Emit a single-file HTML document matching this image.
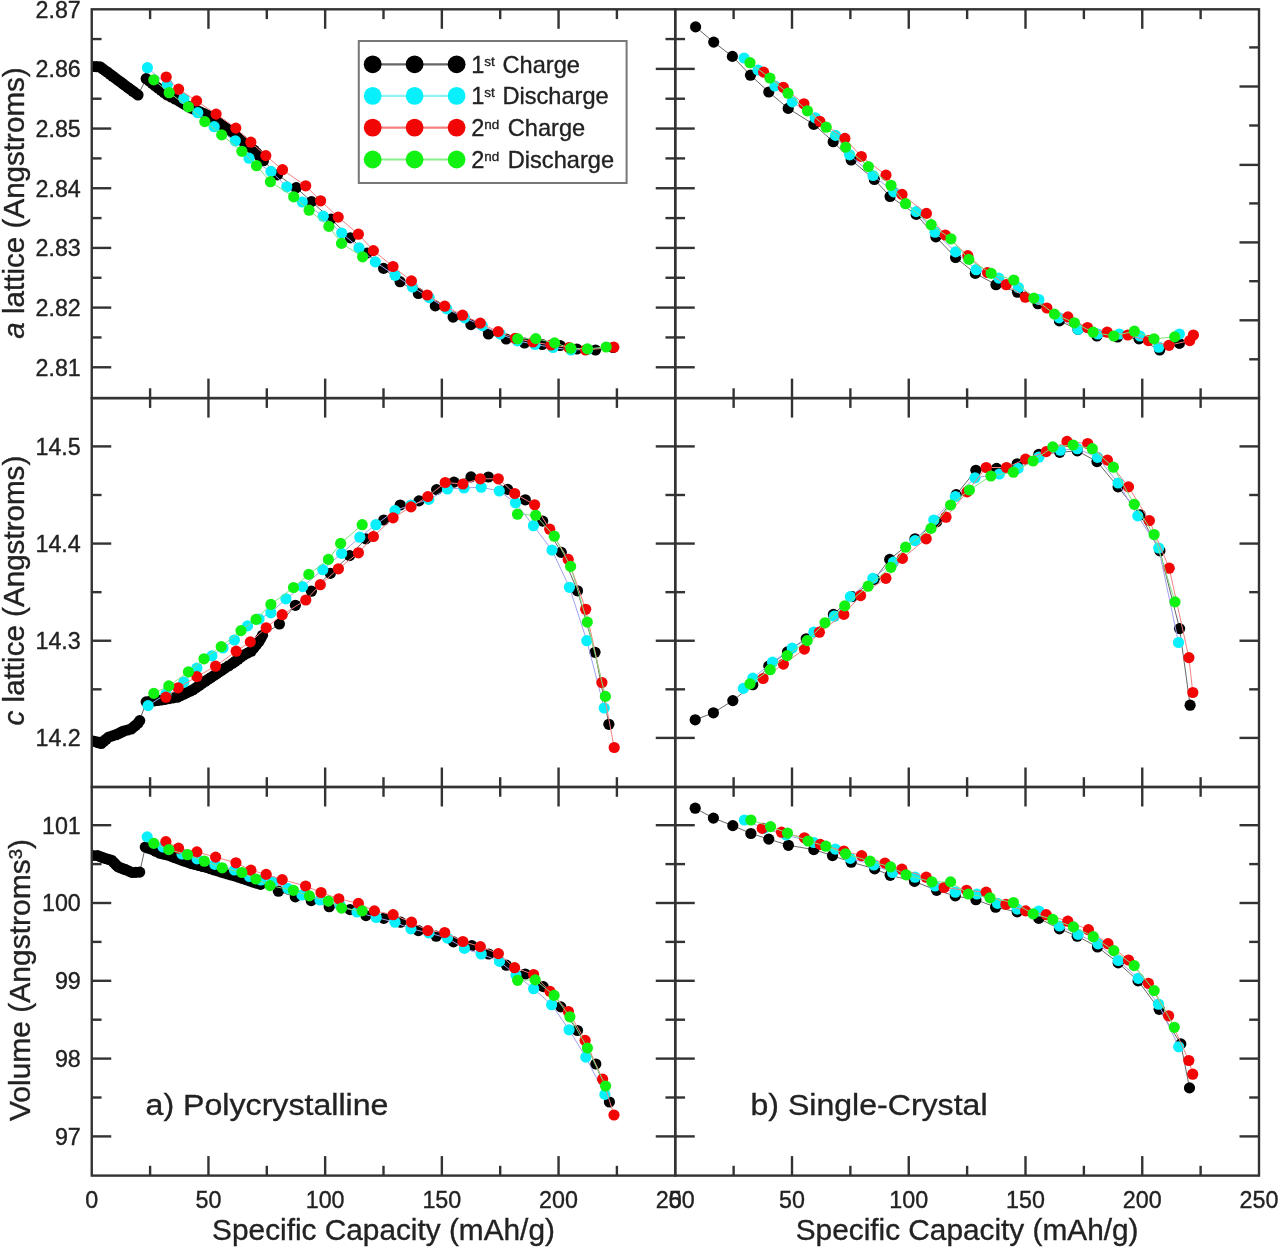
<!DOCTYPE html><html><head><meta charset="utf-8"><style>
html,body{margin:0;padding:0;background:#fff;overflow:hidden;}
svg{display:block;filter:blur(0.45px);}
text{font-family:"Liberation Sans",sans-serif;fill:#222;stroke:#222;stroke-width:0.35px;}
</style></head><body>
<svg width="1280" height="1249" viewBox="0 0 1280 1249">
<rect width="1280" height="1249" fill="#fff"/>
<rect x="91.75" y="9.30" width="583.50" height="388.80" fill="none" stroke="#333" stroke-width="2.4"/>
<rect x="91.75" y="398.10" width="583.50" height="388.90" fill="none" stroke="#333" stroke-width="2.4"/>
<rect x="91.75" y="787.00" width="583.50" height="388.60" fill="none" stroke="#333" stroke-width="2.4"/>
<rect x="675.25" y="9.30" width="583.75" height="388.80" fill="none" stroke="#333" stroke-width="2.4"/>
<rect x="675.25" y="398.10" width="583.75" height="388.90" fill="none" stroke="#333" stroke-width="2.4"/>
<rect x="675.25" y="787.00" width="583.75" height="388.60" fill="none" stroke="#333" stroke-width="2.4"/>
<line x1="150.10" y1="9.30" x2="150.10" y2="19.10" stroke="#333" stroke-width="2.4"/>
<line x1="150.10" y1="398.10" x2="150.10" y2="388.30" stroke="#333" stroke-width="2.4"/>
<line x1="150.10" y1="398.10" x2="150.10" y2="407.90" stroke="#333" stroke-width="2.4"/>
<line x1="150.10" y1="787.00" x2="150.10" y2="777.20" stroke="#333" stroke-width="2.4"/>
<line x1="150.10" y1="787.00" x2="150.10" y2="796.80" stroke="#333" stroke-width="2.4"/>
<line x1="150.10" y1="1175.60" x2="150.10" y2="1165.80" stroke="#333" stroke-width="2.4"/>
<line x1="208.45" y1="9.30" x2="208.45" y2="28.80" stroke="#333" stroke-width="2.4"/>
<line x1="208.45" y1="398.10" x2="208.45" y2="378.60" stroke="#333" stroke-width="2.4"/>
<line x1="208.45" y1="398.10" x2="208.45" y2="417.60" stroke="#333" stroke-width="2.4"/>
<line x1="208.45" y1="787.00" x2="208.45" y2="767.50" stroke="#333" stroke-width="2.4"/>
<line x1="208.45" y1="787.00" x2="208.45" y2="806.50" stroke="#333" stroke-width="2.4"/>
<line x1="208.45" y1="1175.60" x2="208.45" y2="1156.10" stroke="#333" stroke-width="2.4"/>
<line x1="266.80" y1="9.30" x2="266.80" y2="19.10" stroke="#333" stroke-width="2.4"/>
<line x1="266.80" y1="398.10" x2="266.80" y2="388.30" stroke="#333" stroke-width="2.4"/>
<line x1="266.80" y1="398.10" x2="266.80" y2="407.90" stroke="#333" stroke-width="2.4"/>
<line x1="266.80" y1="787.00" x2="266.80" y2="777.20" stroke="#333" stroke-width="2.4"/>
<line x1="266.80" y1="787.00" x2="266.80" y2="796.80" stroke="#333" stroke-width="2.4"/>
<line x1="266.80" y1="1175.60" x2="266.80" y2="1165.80" stroke="#333" stroke-width="2.4"/>
<line x1="325.15" y1="9.30" x2="325.15" y2="28.80" stroke="#333" stroke-width="2.4"/>
<line x1="325.15" y1="398.10" x2="325.15" y2="378.60" stroke="#333" stroke-width="2.4"/>
<line x1="325.15" y1="398.10" x2="325.15" y2="417.60" stroke="#333" stroke-width="2.4"/>
<line x1="325.15" y1="787.00" x2="325.15" y2="767.50" stroke="#333" stroke-width="2.4"/>
<line x1="325.15" y1="787.00" x2="325.15" y2="806.50" stroke="#333" stroke-width="2.4"/>
<line x1="325.15" y1="1175.60" x2="325.15" y2="1156.10" stroke="#333" stroke-width="2.4"/>
<line x1="383.50" y1="9.30" x2="383.50" y2="19.10" stroke="#333" stroke-width="2.4"/>
<line x1="383.50" y1="398.10" x2="383.50" y2="388.30" stroke="#333" stroke-width="2.4"/>
<line x1="383.50" y1="398.10" x2="383.50" y2="407.90" stroke="#333" stroke-width="2.4"/>
<line x1="383.50" y1="787.00" x2="383.50" y2="777.20" stroke="#333" stroke-width="2.4"/>
<line x1="383.50" y1="787.00" x2="383.50" y2="796.80" stroke="#333" stroke-width="2.4"/>
<line x1="383.50" y1="1175.60" x2="383.50" y2="1165.80" stroke="#333" stroke-width="2.4"/>
<line x1="441.85" y1="9.30" x2="441.85" y2="28.80" stroke="#333" stroke-width="2.4"/>
<line x1="441.85" y1="398.10" x2="441.85" y2="378.60" stroke="#333" stroke-width="2.4"/>
<line x1="441.85" y1="398.10" x2="441.85" y2="417.60" stroke="#333" stroke-width="2.4"/>
<line x1="441.85" y1="787.00" x2="441.85" y2="767.50" stroke="#333" stroke-width="2.4"/>
<line x1="441.85" y1="787.00" x2="441.85" y2="806.50" stroke="#333" stroke-width="2.4"/>
<line x1="441.85" y1="1175.60" x2="441.85" y2="1156.10" stroke="#333" stroke-width="2.4"/>
<line x1="500.20" y1="9.30" x2="500.20" y2="19.10" stroke="#333" stroke-width="2.4"/>
<line x1="500.20" y1="398.10" x2="500.20" y2="388.30" stroke="#333" stroke-width="2.4"/>
<line x1="500.20" y1="398.10" x2="500.20" y2="407.90" stroke="#333" stroke-width="2.4"/>
<line x1="500.20" y1="787.00" x2="500.20" y2="777.20" stroke="#333" stroke-width="2.4"/>
<line x1="500.20" y1="787.00" x2="500.20" y2="796.80" stroke="#333" stroke-width="2.4"/>
<line x1="500.20" y1="1175.60" x2="500.20" y2="1165.80" stroke="#333" stroke-width="2.4"/>
<line x1="558.55" y1="9.30" x2="558.55" y2="28.80" stroke="#333" stroke-width="2.4"/>
<line x1="558.55" y1="398.10" x2="558.55" y2="378.60" stroke="#333" stroke-width="2.4"/>
<line x1="558.55" y1="398.10" x2="558.55" y2="417.60" stroke="#333" stroke-width="2.4"/>
<line x1="558.55" y1="787.00" x2="558.55" y2="767.50" stroke="#333" stroke-width="2.4"/>
<line x1="558.55" y1="787.00" x2="558.55" y2="806.50" stroke="#333" stroke-width="2.4"/>
<line x1="558.55" y1="1175.60" x2="558.55" y2="1156.10" stroke="#333" stroke-width="2.4"/>
<line x1="616.90" y1="9.30" x2="616.90" y2="19.10" stroke="#333" stroke-width="2.4"/>
<line x1="616.90" y1="398.10" x2="616.90" y2="388.30" stroke="#333" stroke-width="2.4"/>
<line x1="616.90" y1="398.10" x2="616.90" y2="407.90" stroke="#333" stroke-width="2.4"/>
<line x1="616.90" y1="787.00" x2="616.90" y2="777.20" stroke="#333" stroke-width="2.4"/>
<line x1="616.90" y1="787.00" x2="616.90" y2="796.80" stroke="#333" stroke-width="2.4"/>
<line x1="616.90" y1="1175.60" x2="616.90" y2="1165.80" stroke="#333" stroke-width="2.4"/>
<line x1="733.62" y1="9.30" x2="733.62" y2="19.10" stroke="#333" stroke-width="2.4"/>
<line x1="733.62" y1="398.10" x2="733.62" y2="388.30" stroke="#333" stroke-width="2.4"/>
<line x1="733.62" y1="398.10" x2="733.62" y2="407.90" stroke="#333" stroke-width="2.4"/>
<line x1="733.62" y1="787.00" x2="733.62" y2="777.20" stroke="#333" stroke-width="2.4"/>
<line x1="733.62" y1="787.00" x2="733.62" y2="796.80" stroke="#333" stroke-width="2.4"/>
<line x1="733.62" y1="1175.60" x2="733.62" y2="1165.80" stroke="#333" stroke-width="2.4"/>
<line x1="792.00" y1="9.30" x2="792.00" y2="28.80" stroke="#333" stroke-width="2.4"/>
<line x1="792.00" y1="398.10" x2="792.00" y2="378.60" stroke="#333" stroke-width="2.4"/>
<line x1="792.00" y1="398.10" x2="792.00" y2="417.60" stroke="#333" stroke-width="2.4"/>
<line x1="792.00" y1="787.00" x2="792.00" y2="767.50" stroke="#333" stroke-width="2.4"/>
<line x1="792.00" y1="787.00" x2="792.00" y2="806.50" stroke="#333" stroke-width="2.4"/>
<line x1="792.00" y1="1175.60" x2="792.00" y2="1156.10" stroke="#333" stroke-width="2.4"/>
<line x1="850.38" y1="9.30" x2="850.38" y2="19.10" stroke="#333" stroke-width="2.4"/>
<line x1="850.38" y1="398.10" x2="850.38" y2="388.30" stroke="#333" stroke-width="2.4"/>
<line x1="850.38" y1="398.10" x2="850.38" y2="407.90" stroke="#333" stroke-width="2.4"/>
<line x1="850.38" y1="787.00" x2="850.38" y2="777.20" stroke="#333" stroke-width="2.4"/>
<line x1="850.38" y1="787.00" x2="850.38" y2="796.80" stroke="#333" stroke-width="2.4"/>
<line x1="850.38" y1="1175.60" x2="850.38" y2="1165.80" stroke="#333" stroke-width="2.4"/>
<line x1="908.75" y1="9.30" x2="908.75" y2="28.80" stroke="#333" stroke-width="2.4"/>
<line x1="908.75" y1="398.10" x2="908.75" y2="378.60" stroke="#333" stroke-width="2.4"/>
<line x1="908.75" y1="398.10" x2="908.75" y2="417.60" stroke="#333" stroke-width="2.4"/>
<line x1="908.75" y1="787.00" x2="908.75" y2="767.50" stroke="#333" stroke-width="2.4"/>
<line x1="908.75" y1="787.00" x2="908.75" y2="806.50" stroke="#333" stroke-width="2.4"/>
<line x1="908.75" y1="1175.60" x2="908.75" y2="1156.10" stroke="#333" stroke-width="2.4"/>
<line x1="967.12" y1="9.30" x2="967.12" y2="19.10" stroke="#333" stroke-width="2.4"/>
<line x1="967.12" y1="398.10" x2="967.12" y2="388.30" stroke="#333" stroke-width="2.4"/>
<line x1="967.12" y1="398.10" x2="967.12" y2="407.90" stroke="#333" stroke-width="2.4"/>
<line x1="967.12" y1="787.00" x2="967.12" y2="777.20" stroke="#333" stroke-width="2.4"/>
<line x1="967.12" y1="787.00" x2="967.12" y2="796.80" stroke="#333" stroke-width="2.4"/>
<line x1="967.12" y1="1175.60" x2="967.12" y2="1165.80" stroke="#333" stroke-width="2.4"/>
<line x1="1025.50" y1="9.30" x2="1025.50" y2="28.80" stroke="#333" stroke-width="2.4"/>
<line x1="1025.50" y1="398.10" x2="1025.50" y2="378.60" stroke="#333" stroke-width="2.4"/>
<line x1="1025.50" y1="398.10" x2="1025.50" y2="417.60" stroke="#333" stroke-width="2.4"/>
<line x1="1025.50" y1="787.00" x2="1025.50" y2="767.50" stroke="#333" stroke-width="2.4"/>
<line x1="1025.50" y1="787.00" x2="1025.50" y2="806.50" stroke="#333" stroke-width="2.4"/>
<line x1="1025.50" y1="1175.60" x2="1025.50" y2="1156.10" stroke="#333" stroke-width="2.4"/>
<line x1="1083.88" y1="9.30" x2="1083.88" y2="19.10" stroke="#333" stroke-width="2.4"/>
<line x1="1083.88" y1="398.10" x2="1083.88" y2="388.30" stroke="#333" stroke-width="2.4"/>
<line x1="1083.88" y1="398.10" x2="1083.88" y2="407.90" stroke="#333" stroke-width="2.4"/>
<line x1="1083.88" y1="787.00" x2="1083.88" y2="777.20" stroke="#333" stroke-width="2.4"/>
<line x1="1083.88" y1="787.00" x2="1083.88" y2="796.80" stroke="#333" stroke-width="2.4"/>
<line x1="1083.88" y1="1175.60" x2="1083.88" y2="1165.80" stroke="#333" stroke-width="2.4"/>
<line x1="1142.25" y1="9.30" x2="1142.25" y2="28.80" stroke="#333" stroke-width="2.4"/>
<line x1="1142.25" y1="398.10" x2="1142.25" y2="378.60" stroke="#333" stroke-width="2.4"/>
<line x1="1142.25" y1="398.10" x2="1142.25" y2="417.60" stroke="#333" stroke-width="2.4"/>
<line x1="1142.25" y1="787.00" x2="1142.25" y2="767.50" stroke="#333" stroke-width="2.4"/>
<line x1="1142.25" y1="787.00" x2="1142.25" y2="806.50" stroke="#333" stroke-width="2.4"/>
<line x1="1142.25" y1="1175.60" x2="1142.25" y2="1156.10" stroke="#333" stroke-width="2.4"/>
<line x1="1200.62" y1="9.30" x2="1200.62" y2="19.10" stroke="#333" stroke-width="2.4"/>
<line x1="1200.62" y1="398.10" x2="1200.62" y2="388.30" stroke="#333" stroke-width="2.4"/>
<line x1="1200.62" y1="398.10" x2="1200.62" y2="407.90" stroke="#333" stroke-width="2.4"/>
<line x1="1200.62" y1="787.00" x2="1200.62" y2="777.20" stroke="#333" stroke-width="2.4"/>
<line x1="1200.62" y1="787.00" x2="1200.62" y2="796.80" stroke="#333" stroke-width="2.4"/>
<line x1="1200.62" y1="1175.60" x2="1200.62" y2="1165.80" stroke="#333" stroke-width="2.4"/>
<line x1="91.75" y1="39.04" x2="101.55" y2="39.04" stroke="#333" stroke-width="2.4"/>
<line x1="675.25" y1="39.04" x2="665.45" y2="39.04" stroke="#333" stroke-width="2.4"/>
<line x1="675.25" y1="39.04" x2="685.05" y2="39.04" stroke="#333" stroke-width="2.4"/>
<line x1="91.75" y1="68.88" x2="111.25" y2="68.88" stroke="#333" stroke-width="2.4"/>
<line x1="675.25" y1="68.88" x2="655.75" y2="68.88" stroke="#333" stroke-width="2.4"/>
<line x1="675.25" y1="68.88" x2="694.75" y2="68.88" stroke="#333" stroke-width="2.4"/>
<line x1="91.75" y1="98.72" x2="101.55" y2="98.72" stroke="#333" stroke-width="2.4"/>
<line x1="675.25" y1="98.72" x2="665.45" y2="98.72" stroke="#333" stroke-width="2.4"/>
<line x1="675.25" y1="98.72" x2="685.05" y2="98.72" stroke="#333" stroke-width="2.4"/>
<line x1="91.75" y1="128.56" x2="111.25" y2="128.56" stroke="#333" stroke-width="2.4"/>
<line x1="675.25" y1="128.56" x2="655.75" y2="128.56" stroke="#333" stroke-width="2.4"/>
<line x1="675.25" y1="128.56" x2="694.75" y2="128.56" stroke="#333" stroke-width="2.4"/>
<line x1="91.75" y1="158.40" x2="101.55" y2="158.40" stroke="#333" stroke-width="2.4"/>
<line x1="675.25" y1="158.40" x2="665.45" y2="158.40" stroke="#333" stroke-width="2.4"/>
<line x1="675.25" y1="158.40" x2="685.05" y2="158.40" stroke="#333" stroke-width="2.4"/>
<line x1="91.75" y1="188.24" x2="111.25" y2="188.24" stroke="#333" stroke-width="2.4"/>
<line x1="675.25" y1="188.24" x2="655.75" y2="188.24" stroke="#333" stroke-width="2.4"/>
<line x1="675.25" y1="188.24" x2="694.75" y2="188.24" stroke="#333" stroke-width="2.4"/>
<line x1="91.75" y1="218.08" x2="101.55" y2="218.08" stroke="#333" stroke-width="2.4"/>
<line x1="675.25" y1="218.08" x2="665.45" y2="218.08" stroke="#333" stroke-width="2.4"/>
<line x1="675.25" y1="218.08" x2="685.05" y2="218.08" stroke="#333" stroke-width="2.4"/>
<line x1="91.75" y1="247.92" x2="111.25" y2="247.92" stroke="#333" stroke-width="2.4"/>
<line x1="675.25" y1="247.92" x2="655.75" y2="247.92" stroke="#333" stroke-width="2.4"/>
<line x1="675.25" y1="247.92" x2="694.75" y2="247.92" stroke="#333" stroke-width="2.4"/>
<line x1="91.75" y1="277.76" x2="101.55" y2="277.76" stroke="#333" stroke-width="2.4"/>
<line x1="675.25" y1="277.76" x2="665.45" y2="277.76" stroke="#333" stroke-width="2.4"/>
<line x1="675.25" y1="277.76" x2="685.05" y2="277.76" stroke="#333" stroke-width="2.4"/>
<line x1="91.75" y1="307.60" x2="111.25" y2="307.60" stroke="#333" stroke-width="2.4"/>
<line x1="675.25" y1="307.60" x2="655.75" y2="307.60" stroke="#333" stroke-width="2.4"/>
<line x1="675.25" y1="307.60" x2="694.75" y2="307.60" stroke="#333" stroke-width="2.4"/>
<line x1="91.75" y1="337.44" x2="101.55" y2="337.44" stroke="#333" stroke-width="2.4"/>
<line x1="675.25" y1="337.44" x2="665.45" y2="337.44" stroke="#333" stroke-width="2.4"/>
<line x1="675.25" y1="337.44" x2="685.05" y2="337.44" stroke="#333" stroke-width="2.4"/>
<line x1="91.75" y1="367.28" x2="111.25" y2="367.28" stroke="#333" stroke-width="2.4"/>
<line x1="675.25" y1="367.28" x2="655.75" y2="367.28" stroke="#333" stroke-width="2.4"/>
<line x1="675.25" y1="367.28" x2="694.75" y2="367.28" stroke="#333" stroke-width="2.4"/>
<line x1="91.75" y1="446.40" x2="111.25" y2="446.40" stroke="#333" stroke-width="2.4"/>
<line x1="675.25" y1="446.40" x2="655.75" y2="446.40" stroke="#333" stroke-width="2.4"/>
<line x1="675.25" y1="446.40" x2="694.75" y2="446.40" stroke="#333" stroke-width="2.4"/>
<line x1="1259.00" y1="446.40" x2="1239.50" y2="446.40" stroke="#333" stroke-width="2.4"/>
<line x1="91.75" y1="494.99" x2="101.55" y2="494.99" stroke="#333" stroke-width="2.4"/>
<line x1="675.25" y1="494.99" x2="665.45" y2="494.99" stroke="#333" stroke-width="2.4"/>
<line x1="675.25" y1="494.99" x2="685.05" y2="494.99" stroke="#333" stroke-width="2.4"/>
<line x1="1259.00" y1="494.99" x2="1249.20" y2="494.99" stroke="#333" stroke-width="2.4"/>
<line x1="91.75" y1="543.57" x2="111.25" y2="543.57" stroke="#333" stroke-width="2.4"/>
<line x1="675.25" y1="543.57" x2="655.75" y2="543.57" stroke="#333" stroke-width="2.4"/>
<line x1="675.25" y1="543.57" x2="694.75" y2="543.57" stroke="#333" stroke-width="2.4"/>
<line x1="1259.00" y1="543.57" x2="1239.50" y2="543.57" stroke="#333" stroke-width="2.4"/>
<line x1="91.75" y1="592.16" x2="101.55" y2="592.16" stroke="#333" stroke-width="2.4"/>
<line x1="675.25" y1="592.16" x2="665.45" y2="592.16" stroke="#333" stroke-width="2.4"/>
<line x1="675.25" y1="592.16" x2="685.05" y2="592.16" stroke="#333" stroke-width="2.4"/>
<line x1="1259.00" y1="592.16" x2="1249.20" y2="592.16" stroke="#333" stroke-width="2.4"/>
<line x1="91.75" y1="640.74" x2="111.25" y2="640.74" stroke="#333" stroke-width="2.4"/>
<line x1="675.25" y1="640.74" x2="655.75" y2="640.74" stroke="#333" stroke-width="2.4"/>
<line x1="675.25" y1="640.74" x2="694.75" y2="640.74" stroke="#333" stroke-width="2.4"/>
<line x1="1259.00" y1="640.74" x2="1239.50" y2="640.74" stroke="#333" stroke-width="2.4"/>
<line x1="91.75" y1="689.33" x2="101.55" y2="689.33" stroke="#333" stroke-width="2.4"/>
<line x1="675.25" y1="689.33" x2="665.45" y2="689.33" stroke="#333" stroke-width="2.4"/>
<line x1="675.25" y1="689.33" x2="685.05" y2="689.33" stroke="#333" stroke-width="2.4"/>
<line x1="1259.00" y1="689.33" x2="1249.20" y2="689.33" stroke="#333" stroke-width="2.4"/>
<line x1="91.75" y1="737.91" x2="111.25" y2="737.91" stroke="#333" stroke-width="2.4"/>
<line x1="675.25" y1="737.91" x2="655.75" y2="737.91" stroke="#333" stroke-width="2.4"/>
<line x1="675.25" y1="737.91" x2="694.75" y2="737.91" stroke="#333" stroke-width="2.4"/>
<line x1="1259.00" y1="737.91" x2="1239.50" y2="737.91" stroke="#333" stroke-width="2.4"/>
<line x1="91.75" y1="825.20" x2="111.25" y2="825.20" stroke="#333" stroke-width="2.4"/>
<line x1="675.25" y1="825.20" x2="655.75" y2="825.20" stroke="#333" stroke-width="2.4"/>
<line x1="675.25" y1="825.20" x2="694.75" y2="825.20" stroke="#333" stroke-width="2.4"/>
<line x1="1259.00" y1="825.20" x2="1239.50" y2="825.20" stroke="#333" stroke-width="2.4"/>
<line x1="91.75" y1="864.10" x2="101.55" y2="864.10" stroke="#333" stroke-width="2.4"/>
<line x1="675.25" y1="864.10" x2="665.45" y2="864.10" stroke="#333" stroke-width="2.4"/>
<line x1="675.25" y1="864.10" x2="685.05" y2="864.10" stroke="#333" stroke-width="2.4"/>
<line x1="1259.00" y1="864.10" x2="1249.20" y2="864.10" stroke="#333" stroke-width="2.4"/>
<line x1="91.75" y1="903.00" x2="111.25" y2="903.00" stroke="#333" stroke-width="2.4"/>
<line x1="675.25" y1="903.00" x2="655.75" y2="903.00" stroke="#333" stroke-width="2.4"/>
<line x1="675.25" y1="903.00" x2="694.75" y2="903.00" stroke="#333" stroke-width="2.4"/>
<line x1="1259.00" y1="903.00" x2="1239.50" y2="903.00" stroke="#333" stroke-width="2.4"/>
<line x1="91.75" y1="941.90" x2="101.55" y2="941.90" stroke="#333" stroke-width="2.4"/>
<line x1="675.25" y1="941.90" x2="665.45" y2="941.90" stroke="#333" stroke-width="2.4"/>
<line x1="675.25" y1="941.90" x2="685.05" y2="941.90" stroke="#333" stroke-width="2.4"/>
<line x1="1259.00" y1="941.90" x2="1249.20" y2="941.90" stroke="#333" stroke-width="2.4"/>
<line x1="91.75" y1="980.80" x2="111.25" y2="980.80" stroke="#333" stroke-width="2.4"/>
<line x1="675.25" y1="980.80" x2="655.75" y2="980.80" stroke="#333" stroke-width="2.4"/>
<line x1="675.25" y1="980.80" x2="694.75" y2="980.80" stroke="#333" stroke-width="2.4"/>
<line x1="1259.00" y1="980.80" x2="1239.50" y2="980.80" stroke="#333" stroke-width="2.4"/>
<line x1="91.75" y1="1019.70" x2="101.55" y2="1019.70" stroke="#333" stroke-width="2.4"/>
<line x1="675.25" y1="1019.70" x2="665.45" y2="1019.70" stroke="#333" stroke-width="2.4"/>
<line x1="675.25" y1="1019.70" x2="685.05" y2="1019.70" stroke="#333" stroke-width="2.4"/>
<line x1="1259.00" y1="1019.70" x2="1249.20" y2="1019.70" stroke="#333" stroke-width="2.4"/>
<line x1="91.75" y1="1058.60" x2="111.25" y2="1058.60" stroke="#333" stroke-width="2.4"/>
<line x1="675.25" y1="1058.60" x2="655.75" y2="1058.60" stroke="#333" stroke-width="2.4"/>
<line x1="675.25" y1="1058.60" x2="694.75" y2="1058.60" stroke="#333" stroke-width="2.4"/>
<line x1="1259.00" y1="1058.60" x2="1239.50" y2="1058.60" stroke="#333" stroke-width="2.4"/>
<line x1="91.75" y1="1097.50" x2="101.55" y2="1097.50" stroke="#333" stroke-width="2.4"/>
<line x1="675.25" y1="1097.50" x2="665.45" y2="1097.50" stroke="#333" stroke-width="2.4"/>
<line x1="675.25" y1="1097.50" x2="685.05" y2="1097.50" stroke="#333" stroke-width="2.4"/>
<line x1="1259.00" y1="1097.50" x2="1249.20" y2="1097.50" stroke="#333" stroke-width="2.4"/>
<line x1="91.75" y1="1136.40" x2="111.25" y2="1136.40" stroke="#333" stroke-width="2.4"/>
<line x1="675.25" y1="1136.40" x2="655.75" y2="1136.40" stroke="#333" stroke-width="2.4"/>
<line x1="675.25" y1="1136.40" x2="694.75" y2="1136.40" stroke="#333" stroke-width="2.4"/>
<line x1="1259.00" y1="1136.40" x2="1239.50" y2="1136.40" stroke="#333" stroke-width="2.4"/>
<line x1="1259.00" y1="47.40" x2="1249.20" y2="47.40" stroke="#333" stroke-width="2.4"/>
<line x1="1259.00" y1="86.50" x2="1239.50" y2="86.50" stroke="#333" stroke-width="2.4"/>
<line x1="1259.00" y1="125.50" x2="1249.20" y2="125.50" stroke="#333" stroke-width="2.4"/>
<line x1="1259.00" y1="164.90" x2="1239.50" y2="164.90" stroke="#333" stroke-width="2.4"/>
<line x1="1259.00" y1="203.40" x2="1249.20" y2="203.40" stroke="#333" stroke-width="2.4"/>
<line x1="1259.00" y1="242.40" x2="1239.50" y2="242.40" stroke="#333" stroke-width="2.4"/>
<line x1="1259.00" y1="281.20" x2="1249.20" y2="281.20" stroke="#333" stroke-width="2.4"/>
<line x1="1259.00" y1="320.30" x2="1239.50" y2="320.30" stroke="#333" stroke-width="2.4"/>
<line x1="1259.00" y1="359.30" x2="1249.20" y2="359.30" stroke="#333" stroke-width="2.4"/>
<text x="80.80" y="77.18" font-size="23.3" text-anchor="end" >2.86</text>
<text x="80.80" y="136.86" font-size="23.3" text-anchor="end" >2.85</text>
<text x="80.80" y="196.54" font-size="23.3" text-anchor="end" >2.84</text>
<text x="80.80" y="256.22" font-size="23.3" text-anchor="end" >2.83</text>
<text x="80.80" y="315.90" font-size="23.3" text-anchor="end" >2.82</text>
<text x="80.80" y="375.58" font-size="23.3" text-anchor="end" >2.81</text>
<text x="80.80" y="17.50" font-size="23.3" text-anchor="end" >2.87</text>
<text x="80.80" y="454.70" font-size="23.3" text-anchor="end" >14.5</text>
<text x="80.80" y="551.87" font-size="23.3" text-anchor="end" >14.4</text>
<text x="80.80" y="649.04" font-size="23.3" text-anchor="end" >14.3</text>
<text x="80.80" y="746.21" font-size="23.3" text-anchor="end" >14.2</text>
<text x="80.80" y="833.50" font-size="23.3" text-anchor="end" >101</text>
<text x="80.80" y="911.30" font-size="23.3" text-anchor="end" >100</text>
<text x="80.80" y="989.10" font-size="23.3" text-anchor="end" >99</text>
<text x="80.80" y="1066.90" font-size="23.3" text-anchor="end" >98</text>
<text x="80.80" y="1144.70" font-size="23.3" text-anchor="end" >97</text>
<text x="91.75" y="1207.50" font-size="23.3" text-anchor="middle" >0</text>
<text x="208.45" y="1207.50" font-size="23.3" text-anchor="middle" >50</text>
<text x="325.15" y="1207.50" font-size="23.3" text-anchor="middle" >100</text>
<text x="441.85" y="1207.50" font-size="23.3" text-anchor="middle" >150</text>
<text x="558.55" y="1207.50" font-size="23.3" text-anchor="middle" >200</text>
<text x="675.25" y="1207.50" font-size="23.3" text-anchor="middle" >250</text>
<text x="383.50" y="1239.70" font-size="29.8" text-anchor="middle" >Specific Capacity (mAh/g)</text>
<text x="675.25" y="1207.50" font-size="23.3" text-anchor="middle" >0</text>
<text x="792.00" y="1207.50" font-size="23.3" text-anchor="middle" >50</text>
<text x="908.75" y="1207.50" font-size="23.3" text-anchor="middle" >100</text>
<text x="1025.50" y="1207.50" font-size="23.3" text-anchor="middle" >150</text>
<text x="1142.25" y="1207.50" font-size="23.3" text-anchor="middle" >200</text>
<text x="1259.00" y="1207.50" font-size="23.3" text-anchor="middle" >250</text>
<text x="967.12" y="1239.70" font-size="29.8" text-anchor="middle" >Specific Capacity (mAh/g)</text>
<text transform="translate(23.7,203.0) rotate(-90)" font-size="29.6" text-anchor="middle"><tspan font-style="italic">a</tspan> lattice (Angstroms)</text>
<text transform="translate(23.7,590.6) rotate(-90)" font-size="29.6" text-anchor="middle"><tspan font-style="italic">c</tspan> lattice (Angstroms)</text>
<text transform="translate(29.7,980.0) rotate(-90)" font-size="30.0" text-anchor="middle">Volume (Angstroms<tspan font-size="18.5" dy="-7.7">3</tspan><tspan dy="7.7">)</tspan></text>
<text x="145.50" y="1114.80" font-size="30" text-anchor="start" textLength="243" lengthAdjust="spacingAndGlyphs">a) Polycrystalline</text>
<text x="750.50" y="1114.80" font-size="30" text-anchor="start" textLength="237" lengthAdjust="spacingAndGlyphs">b) Single-Crystal</text>
<defs><clipPath id="cp0"><rect x="92.85" y="10.40" width="581.3" height="386.60"/></clipPath><clipPath id="cp1"><rect x="676.35" y="10.40" width="581.3" height="386.60"/></clipPath><clipPath id="cp2"><rect x="92.85" y="399.20" width="581.3" height="386.70"/></clipPath><clipPath id="cp3"><rect x="676.35" y="399.20" width="581.3" height="386.70"/></clipPath><clipPath id="cp4"><rect x="92.85" y="788.10" width="581.3" height="386.40"/></clipPath><clipPath id="cp5"><rect x="676.35" y="788.10" width="581.3" height="386.40"/></clipPath></defs>
<g clip-path="url(#cp0)">
<path d="M93.0,66.5 L96.5,66.7 L100.0,66.8 L102.5,68.7 L105.1,70.6 L107.6,72.4 L110.1,74.3 L112.7,76.2 L115.2,78.1 L117.7,80.0 L120.3,81.8 L122.8,83.7 L125.3,85.6 L127.9,87.5 L130.4,89.4 L132.9,91.2 L135.5,93.1 L138.0,95.0 L146.2,78.7 L149.2,81.0 L152.1,83.3 L155.1,85.7 L158.0,88.0 L161.1,90.3 L164.2,92.7 L167.3,95.0 L171.2,97.0 L175.1,99.0 L179.0,101.0 L181.9,102.8 L184.9,104.5 L187.9,106.2 L190.8,108.0 L194.1,109.4 L197.4,110.8 L200.6,112.2 L203.9,113.6 L207.2,115.0 L210.3,117.0 L213.5,118.9 L216.6,120.9 L219.7,123.2 L222.9,125.6 L226.0,127.9 L229.1,130.2 L232.2,132.6 L235.3,134.9 L238.4,137.6 L241.6,140.4 L244.7,143.1 L247.8,145.5 L250.9,147.8 L254.0,150.2 L256.4,152.8 L258.7,155.4 L261.0,158.1 L263.4,160.7 L277.5,174.8 L296.2,187.7 L311.5,201.6 L331.0,219.0 L350.3,237.8 L367.0,253.0 L383.6,268.4 L400.1,281.7 L418.4,293.5 L435.3,305.9 L453.1,317.1 L470.9,324.6 L488.4,334.0 L506.2,339.0 L524.5,343.0 L542.2,344.5 L560.1,345.5 L576.8,349.0 L595.5,350.0 L613.0,347.5" fill="none" stroke="#666666" stroke-width="1"/>
<circle cx="93.0" cy="66.5" r="5.6" fill="#000000"/>
<circle cx="96.5" cy="66.7" r="5.6" fill="#000000"/>
<circle cx="100.0" cy="66.8" r="5.6" fill="#000000"/>
<circle cx="102.5" cy="68.7" r="5.6" fill="#000000"/>
<circle cx="105.1" cy="70.6" r="5.6" fill="#000000"/>
<circle cx="107.6" cy="72.4" r="5.6" fill="#000000"/>
<circle cx="110.1" cy="74.3" r="5.6" fill="#000000"/>
<circle cx="112.7" cy="76.2" r="5.6" fill="#000000"/>
<circle cx="115.2" cy="78.1" r="5.6" fill="#000000"/>
<circle cx="117.7" cy="80.0" r="5.6" fill="#000000"/>
<circle cx="120.3" cy="81.8" r="5.6" fill="#000000"/>
<circle cx="122.8" cy="83.7" r="5.6" fill="#000000"/>
<circle cx="125.3" cy="85.6" r="5.6" fill="#000000"/>
<circle cx="127.9" cy="87.5" r="5.6" fill="#000000"/>
<circle cx="130.4" cy="89.4" r="5.6" fill="#000000"/>
<circle cx="132.9" cy="91.2" r="5.6" fill="#000000"/>
<circle cx="135.5" cy="93.1" r="5.6" fill="#000000"/>
<circle cx="138.0" cy="95.0" r="5.6" fill="#000000"/>
<circle cx="146.2" cy="78.7" r="5.6" fill="#000000"/>
<circle cx="149.2" cy="81.0" r="5.6" fill="#000000"/>
<circle cx="152.1" cy="83.3" r="5.6" fill="#000000"/>
<circle cx="155.1" cy="85.7" r="5.6" fill="#000000"/>
<circle cx="158.0" cy="88.0" r="5.6" fill="#000000"/>
<circle cx="161.1" cy="90.3" r="5.6" fill="#000000"/>
<circle cx="164.2" cy="92.7" r="5.6" fill="#000000"/>
<circle cx="167.3" cy="95.0" r="5.6" fill="#000000"/>
<circle cx="171.2" cy="97.0" r="5.6" fill="#000000"/>
<circle cx="175.1" cy="99.0" r="5.6" fill="#000000"/>
<circle cx="179.0" cy="101.0" r="5.6" fill="#000000"/>
<circle cx="181.9" cy="102.8" r="5.6" fill="#000000"/>
<circle cx="184.9" cy="104.5" r="5.6" fill="#000000"/>
<circle cx="187.9" cy="106.2" r="5.6" fill="#000000"/>
<circle cx="190.8" cy="108.0" r="5.6" fill="#000000"/>
<circle cx="194.1" cy="109.4" r="5.6" fill="#000000"/>
<circle cx="197.4" cy="110.8" r="5.6" fill="#000000"/>
<circle cx="200.6" cy="112.2" r="5.6" fill="#000000"/>
<circle cx="203.9" cy="113.6" r="5.6" fill="#000000"/>
<circle cx="207.2" cy="115.0" r="5.6" fill="#000000"/>
<circle cx="210.3" cy="117.0" r="5.6" fill="#000000"/>
<circle cx="213.5" cy="118.9" r="5.6" fill="#000000"/>
<circle cx="216.6" cy="120.9" r="5.6" fill="#000000"/>
<circle cx="219.7" cy="123.2" r="5.6" fill="#000000"/>
<circle cx="222.9" cy="125.6" r="5.6" fill="#000000"/>
<circle cx="226.0" cy="127.9" r="5.6" fill="#000000"/>
<circle cx="229.1" cy="130.2" r="5.6" fill="#000000"/>
<circle cx="232.2" cy="132.6" r="5.6" fill="#000000"/>
<circle cx="235.3" cy="134.9" r="5.6" fill="#000000"/>
<circle cx="238.4" cy="137.6" r="5.6" fill="#000000"/>
<circle cx="241.6" cy="140.4" r="5.6" fill="#000000"/>
<circle cx="244.7" cy="143.1" r="5.6" fill="#000000"/>
<circle cx="247.8" cy="145.5" r="5.6" fill="#000000"/>
<circle cx="250.9" cy="147.8" r="5.6" fill="#000000"/>
<circle cx="254.0" cy="150.2" r="5.6" fill="#000000"/>
<circle cx="256.4" cy="152.8" r="5.6" fill="#000000"/>
<circle cx="258.7" cy="155.4" r="5.6" fill="#000000"/>
<circle cx="261.0" cy="158.1" r="5.6" fill="#000000"/>
<circle cx="263.4" cy="160.7" r="5.6" fill="#000000"/>
<circle cx="277.5" cy="174.8" r="5.6" fill="#000000"/>
<circle cx="296.2" cy="187.7" r="5.6" fill="#000000"/>
<circle cx="311.5" cy="201.6" r="5.6" fill="#000000"/>
<circle cx="331.0" cy="219.0" r="5.6" fill="#000000"/>
<circle cx="350.3" cy="237.8" r="5.6" fill="#000000"/>
<circle cx="367.0" cy="253.0" r="5.6" fill="#000000"/>
<circle cx="383.6" cy="268.4" r="5.6" fill="#000000"/>
<circle cx="400.1" cy="281.7" r="5.6" fill="#000000"/>
<circle cx="418.4" cy="293.5" r="5.6" fill="#000000"/>
<circle cx="435.3" cy="305.9" r="5.6" fill="#000000"/>
<circle cx="453.1" cy="317.1" r="5.6" fill="#000000"/>
<circle cx="470.9" cy="324.6" r="5.6" fill="#000000"/>
<circle cx="488.4" cy="334.0" r="5.6" fill="#000000"/>
<circle cx="506.2" cy="339.0" r="5.6" fill="#000000"/>
<circle cx="524.5" cy="343.0" r="5.6" fill="#000000"/>
<circle cx="542.2" cy="344.5" r="5.6" fill="#000000"/>
<circle cx="560.1" cy="345.5" r="5.6" fill="#000000"/>
<circle cx="576.8" cy="349.0" r="5.6" fill="#000000"/>
<circle cx="595.5" cy="350.0" r="5.6" fill="#000000"/>
<circle cx="613.0" cy="347.5" r="5.6" fill="#000000"/>
<path d="M147.4,67.7 L167.3,84.5 L183.8,98.6 L197.8,112.7 L214.2,126.7 L235.3,140.8 L249.0,158.2 L271.0,171.4 L286.8,186.8 L302.3,202.0 L323.2,216.2 L341.7,233.0 L359.0,247.9 L375.3,261.9 L395.1,275.3 L412.5,287.0 L429.2,297.6 L446.7,308.8 L464.5,317.8 L482.3,325.6 L500.2,334.1 L517.3,340.8 L535.0,344.5 L553.0,347.5 L571.0,350.0 L587.5,349.5" fill="none" stroke="#a0a0f0" stroke-width="1"/>
<circle cx="147.4" cy="67.7" r="5.6" fill="#08f0fc"/>
<circle cx="167.3" cy="84.5" r="5.6" fill="#08f0fc"/>
<circle cx="183.8" cy="98.6" r="5.6" fill="#08f0fc"/>
<circle cx="197.8" cy="112.7" r="5.6" fill="#08f0fc"/>
<circle cx="214.2" cy="126.7" r="5.6" fill="#08f0fc"/>
<circle cx="235.3" cy="140.8" r="5.6" fill="#08f0fc"/>
<circle cx="249.0" cy="158.2" r="5.6" fill="#08f0fc"/>
<circle cx="271.0" cy="171.4" r="5.6" fill="#08f0fc"/>
<circle cx="286.8" cy="186.8" r="5.6" fill="#08f0fc"/>
<circle cx="302.3" cy="202.0" r="5.6" fill="#08f0fc"/>
<circle cx="323.2" cy="216.2" r="5.6" fill="#08f0fc"/>
<circle cx="341.7" cy="233.0" r="5.6" fill="#08f0fc"/>
<circle cx="359.0" cy="247.9" r="5.6" fill="#08f0fc"/>
<circle cx="375.3" cy="261.9" r="5.6" fill="#08f0fc"/>
<circle cx="395.1" cy="275.3" r="5.6" fill="#08f0fc"/>
<circle cx="412.5" cy="287.0" r="5.6" fill="#08f0fc"/>
<circle cx="429.2" cy="297.6" r="5.6" fill="#08f0fc"/>
<circle cx="446.7" cy="308.8" r="5.6" fill="#08f0fc"/>
<circle cx="464.5" cy="317.8" r="5.6" fill="#08f0fc"/>
<circle cx="482.3" cy="325.6" r="5.6" fill="#08f0fc"/>
<circle cx="500.2" cy="334.1" r="5.6" fill="#08f0fc"/>
<circle cx="517.3" cy="340.8" r="5.6" fill="#08f0fc"/>
<circle cx="535.0" cy="344.5" r="5.6" fill="#08f0fc"/>
<circle cx="553.0" cy="347.5" r="5.6" fill="#08f0fc"/>
<circle cx="571.0" cy="350.0" r="5.6" fill="#08f0fc"/>
<circle cx="587.5" cy="349.5" r="5.6" fill="#08f0fc"/>
<path d="M166.2,77.0 L178.6,89.2 L196.6,100.9 L216.1,114.1 L235.8,128.1 L250.8,142.2 L265.8,155.6 L282.5,169.7 L305.7,185.8 L320.6,200.8 L338.2,217.1 L358.4,234.2 L373.4,250.6 L393.0,266.5 L411.4,280.9 L427.2,295.0 L444.7,306.2 L462.5,315.2 L480.3,323.1 L498.2,331.6 L515.3,338.3 L533.0,342.0 L551.0,345.0 L569.0,347.5 L585.6,350.0 L613.8,347.2" fill="none" stroke="#f48080" stroke-width="1"/>
<circle cx="166.2" cy="77.0" r="5.6" fill="#f20505"/>
<circle cx="178.6" cy="89.2" r="5.6" fill="#f20505"/>
<circle cx="196.6" cy="100.9" r="5.6" fill="#f20505"/>
<circle cx="216.1" cy="114.1" r="5.6" fill="#f20505"/>
<circle cx="235.8" cy="128.1" r="5.6" fill="#f20505"/>
<circle cx="250.8" cy="142.2" r="5.6" fill="#f20505"/>
<circle cx="265.8" cy="155.6" r="5.6" fill="#f20505"/>
<circle cx="282.5" cy="169.7" r="5.6" fill="#f20505"/>
<circle cx="305.7" cy="185.8" r="5.6" fill="#f20505"/>
<circle cx="320.6" cy="200.8" r="5.6" fill="#f20505"/>
<circle cx="338.2" cy="217.1" r="5.6" fill="#f20505"/>
<circle cx="358.4" cy="234.2" r="5.6" fill="#f20505"/>
<circle cx="373.4" cy="250.6" r="5.6" fill="#f20505"/>
<circle cx="393.0" cy="266.5" r="5.6" fill="#f20505"/>
<circle cx="411.4" cy="280.9" r="5.6" fill="#f20505"/>
<circle cx="427.2" cy="295.0" r="5.6" fill="#f20505"/>
<circle cx="444.7" cy="306.2" r="5.6" fill="#f20505"/>
<circle cx="462.5" cy="315.2" r="5.6" fill="#f20505"/>
<circle cx="480.3" cy="323.1" r="5.6" fill="#f20505"/>
<circle cx="498.2" cy="331.6" r="5.6" fill="#f20505"/>
<circle cx="515.3" cy="338.3" r="5.6" fill="#f20505"/>
<circle cx="533.0" cy="342.0" r="5.6" fill="#f20505"/>
<circle cx="551.0" cy="345.0" r="5.6" fill="#f20505"/>
<circle cx="569.0" cy="347.5" r="5.6" fill="#f20505"/>
<circle cx="585.6" cy="350.0" r="5.6" fill="#f20505"/>
<circle cx="613.8" cy="347.2" r="5.6" fill="#f20505"/>
<path d="M153.8,79.8 L169.2,92.7 L188.4,106.8 L204.8,121.6 L221.7,134.9 L241.9,151.3 L256.5,165.7 L270.4,181.7 L293.7,196.8 L309.1,210.2 L328.9,226.4 L341.5,243.4 L362.6,256.8" fill="none" stroke="#80e080" stroke-width="1"/>
<path d="M517.7,338.8 L535.8,338.6 L554.6,342.9 L570.8,348.2 L587.4,348.9 L606.2,347.0" fill="none" stroke="#80e080" stroke-width="1"/>
<circle cx="153.8" cy="79.8" r="5.6" fill="#12f212"/>
<circle cx="169.2" cy="92.7" r="5.6" fill="#12f212"/>
<circle cx="188.4" cy="106.8" r="5.6" fill="#12f212"/>
<circle cx="204.8" cy="121.6" r="5.6" fill="#12f212"/>
<circle cx="221.7" cy="134.9" r="5.6" fill="#12f212"/>
<circle cx="241.9" cy="151.3" r="5.6" fill="#12f212"/>
<circle cx="256.5" cy="165.7" r="5.6" fill="#12f212"/>
<circle cx="270.4" cy="181.7" r="5.6" fill="#12f212"/>
<circle cx="293.7" cy="196.8" r="5.6" fill="#12f212"/>
<circle cx="309.1" cy="210.2" r="5.6" fill="#12f212"/>
<circle cx="328.9" cy="226.4" r="5.6" fill="#12f212"/>
<circle cx="341.5" cy="243.4" r="5.6" fill="#12f212"/>
<circle cx="362.6" cy="256.8" r="5.6" fill="#12f212"/>
<circle cx="517.7" cy="338.8" r="5.6" fill="#12f212"/>
<circle cx="535.8" cy="338.6" r="5.6" fill="#12f212"/>
<circle cx="554.6" cy="342.9" r="5.6" fill="#12f212"/>
<circle cx="570.8" cy="348.2" r="5.6" fill="#12f212"/>
<circle cx="587.4" cy="348.9" r="5.6" fill="#12f212"/>
<circle cx="606.2" cy="347.0" r="5.6" fill="#12f212"/>
</g>
<g clip-path="url(#cp1)">
<path d="M695.6,26.9 L713.7,42.1 L732.4,56.4 L750.5,75.2 L768.8,92.0 L788.2,108.4 L813.8,124.4 L833.2,141.7 L851.2,160.0 L874.4,179.5 L890.1,196.5 L916.2,214.4 L935.9,236.9 L955.6,257.5 L975.3,273.4 L996.0,284.7 L1017.5,292.2 L1038.0,303.7 L1059.4,320.9 L1078.0,329.4 L1096.9,336.0 L1117.5,337.0 L1139.0,338.8 L1159.7,350.0 L1179.4,343.4" fill="none" stroke="#666666" stroke-width="1"/>
<circle cx="695.6" cy="26.9" r="5.6" fill="#000000"/>
<circle cx="713.7" cy="42.1" r="5.6" fill="#000000"/>
<circle cx="732.4" cy="56.4" r="5.6" fill="#000000"/>
<circle cx="750.5" cy="75.2" r="5.6" fill="#000000"/>
<circle cx="768.8" cy="92.0" r="5.6" fill="#000000"/>
<circle cx="788.2" cy="108.4" r="5.6" fill="#000000"/>
<circle cx="813.8" cy="124.4" r="5.6" fill="#000000"/>
<circle cx="833.2" cy="141.7" r="5.6" fill="#000000"/>
<circle cx="851.2" cy="160.0" r="5.6" fill="#000000"/>
<circle cx="874.4" cy="179.5" r="5.6" fill="#000000"/>
<circle cx="890.1" cy="196.5" r="5.6" fill="#000000"/>
<circle cx="916.2" cy="214.4" r="5.6" fill="#000000"/>
<circle cx="935.9" cy="236.9" r="5.6" fill="#000000"/>
<circle cx="955.6" cy="257.5" r="5.6" fill="#000000"/>
<circle cx="975.3" cy="273.4" r="5.6" fill="#000000"/>
<circle cx="996.0" cy="284.7" r="5.6" fill="#000000"/>
<circle cx="1017.5" cy="292.2" r="5.6" fill="#000000"/>
<circle cx="1038.0" cy="303.7" r="5.6" fill="#000000"/>
<circle cx="1059.4" cy="320.9" r="5.6" fill="#000000"/>
<circle cx="1078.0" cy="329.4" r="5.6" fill="#000000"/>
<circle cx="1096.9" cy="336.0" r="5.6" fill="#000000"/>
<circle cx="1117.5" cy="337.0" r="5.6" fill="#000000"/>
<circle cx="1139.0" cy="338.8" r="5.6" fill="#000000"/>
<circle cx="1159.7" cy="350.0" r="5.6" fill="#000000"/>
<circle cx="1179.4" cy="343.4" r="5.6" fill="#000000"/>
<path d="M744.1,58.0 L758.0,70.0 L775.0,86.0 L792.2,101.9 L815.2,117.8 L835.5,135.4 L849.6,154.8 L873.0,175.5 L893.8,191.9 L916.2,211.6 L935.0,232.2 L955.6,251.9 L976.2,269.7 L998.8,278.1 L1018.4,287.5 L1038.9,299.5 L1059.1,317.8 L1078.1,329.4 L1097.8,334.0 L1119.4,334.0 L1140.0,336.0 L1158.8,347.2 L1179.4,334.0" fill="none" stroke="#a0a0f0" stroke-width="1"/>
<circle cx="744.1" cy="58.0" r="5.6" fill="#08f0fc"/>
<circle cx="758.0" cy="70.0" r="5.6" fill="#08f0fc"/>
<circle cx="775.0" cy="86.0" r="5.6" fill="#08f0fc"/>
<circle cx="792.2" cy="101.9" r="5.6" fill="#08f0fc"/>
<circle cx="815.2" cy="117.8" r="5.6" fill="#08f0fc"/>
<circle cx="835.5" cy="135.4" r="5.6" fill="#08f0fc"/>
<circle cx="849.6" cy="154.8" r="5.6" fill="#08f0fc"/>
<circle cx="873.0" cy="175.5" r="5.6" fill="#08f0fc"/>
<circle cx="893.8" cy="191.9" r="5.6" fill="#08f0fc"/>
<circle cx="916.2" cy="211.6" r="5.6" fill="#08f0fc"/>
<circle cx="935.0" cy="232.2" r="5.6" fill="#08f0fc"/>
<circle cx="955.6" cy="251.9" r="5.6" fill="#08f0fc"/>
<circle cx="976.2" cy="269.7" r="5.6" fill="#08f0fc"/>
<circle cx="998.8" cy="278.1" r="5.6" fill="#08f0fc"/>
<circle cx="1018.4" cy="287.5" r="5.6" fill="#08f0fc"/>
<circle cx="1038.9" cy="299.5" r="5.6" fill="#08f0fc"/>
<circle cx="1059.1" cy="317.8" r="5.6" fill="#08f0fc"/>
<circle cx="1078.1" cy="329.4" r="5.6" fill="#08f0fc"/>
<circle cx="1097.8" cy="334.0" r="5.6" fill="#08f0fc"/>
<circle cx="1119.4" cy="334.0" r="5.6" fill="#08f0fc"/>
<circle cx="1140.0" cy="336.0" r="5.6" fill="#08f0fc"/>
<circle cx="1158.8" cy="347.2" r="5.6" fill="#08f0fc"/>
<circle cx="1179.4" cy="334.0" r="5.6" fill="#08f0fc"/>
<path d="M763.6,72.1 L783.3,87.3 L803.9,103.8 L819.8,121.3 L844.9,138.4 L861.3,156.5 L886.0,175.1 L902.0,194.4 L926.4,213.4 L945.3,235.0 L967.8,255.6 L987.5,272.5 L1006.2,284.7 L1025.3,297.2 L1046.9,308.0 L1067.9,316.9 L1087.5,327.5 L1107.2,332.2 L1127.8,335.0 L1148.4,340.6 L1169.0,345.3 L1189.7,340.6 L1193.4,335.0" fill="none" stroke="#f48080" stroke-width="1"/>
<circle cx="763.6" cy="72.1" r="5.6" fill="#f20505"/>
<circle cx="783.3" cy="87.3" r="5.6" fill="#f20505"/>
<circle cx="803.9" cy="103.8" r="5.6" fill="#f20505"/>
<circle cx="819.8" cy="121.3" r="5.6" fill="#f20505"/>
<circle cx="844.9" cy="138.4" r="5.6" fill="#f20505"/>
<circle cx="861.3" cy="156.5" r="5.6" fill="#f20505"/>
<circle cx="886.0" cy="175.1" r="5.6" fill="#f20505"/>
<circle cx="902.0" cy="194.4" r="5.6" fill="#f20505"/>
<circle cx="926.4" cy="213.4" r="5.6" fill="#f20505"/>
<circle cx="945.3" cy="235.0" r="5.6" fill="#f20505"/>
<circle cx="967.8" cy="255.6" r="5.6" fill="#f20505"/>
<circle cx="987.5" cy="272.5" r="5.6" fill="#f20505"/>
<circle cx="1006.2" cy="284.7" r="5.6" fill="#f20505"/>
<circle cx="1025.3" cy="297.2" r="5.6" fill="#f20505"/>
<circle cx="1046.9" cy="308.0" r="5.6" fill="#f20505"/>
<circle cx="1067.9" cy="316.9" r="5.6" fill="#f20505"/>
<circle cx="1087.5" cy="327.5" r="5.6" fill="#f20505"/>
<circle cx="1107.2" cy="332.2" r="5.6" fill="#f20505"/>
<circle cx="1127.8" cy="335.0" r="5.6" fill="#f20505"/>
<circle cx="1148.4" cy="340.6" r="5.6" fill="#f20505"/>
<circle cx="1169.0" cy="345.3" r="5.6" fill="#f20505"/>
<circle cx="1189.7" cy="340.6" r="5.6" fill="#f20505"/>
<circle cx="1193.4" cy="335.0" r="5.6" fill="#f20505"/>
<path d="M750.0,62.7 L769.9,78.0 L788.0,93.2 L807.4,110.8 L826.2,127.2 L845.6,147.1 L868.4,166.6 L891.0,185.3 L905.5,203.7 L931.2,224.7 L950.9,238.8 L968.8,259.4 L991.2,273.4 L1013.8,280.0 L1033.8,298.1 L1054.4,314.1 L1074.4,322.8 L1093.1,332.2 L1113.8,336.0 L1134.4,331.2 L1154.0,338.8 L1174.7,336.9" fill="none" stroke="#80e080" stroke-width="1"/>
<circle cx="750.0" cy="62.7" r="5.6" fill="#12f212"/>
<circle cx="769.9" cy="78.0" r="5.6" fill="#12f212"/>
<circle cx="788.0" cy="93.2" r="5.6" fill="#12f212"/>
<circle cx="807.4" cy="110.8" r="5.6" fill="#12f212"/>
<circle cx="826.2" cy="127.2" r="5.6" fill="#12f212"/>
<circle cx="845.6" cy="147.1" r="5.6" fill="#12f212"/>
<circle cx="868.4" cy="166.6" r="5.6" fill="#12f212"/>
<circle cx="891.0" cy="185.3" r="5.6" fill="#12f212"/>
<circle cx="905.5" cy="203.7" r="5.6" fill="#12f212"/>
<circle cx="931.2" cy="224.7" r="5.6" fill="#12f212"/>
<circle cx="950.9" cy="238.8" r="5.6" fill="#12f212"/>
<circle cx="968.8" cy="259.4" r="5.6" fill="#12f212"/>
<circle cx="991.2" cy="273.4" r="5.6" fill="#12f212"/>
<circle cx="1013.8" cy="280.0" r="5.6" fill="#12f212"/>
<circle cx="1033.8" cy="298.1" r="5.6" fill="#12f212"/>
<circle cx="1054.4" cy="314.1" r="5.6" fill="#12f212"/>
<circle cx="1074.4" cy="322.8" r="5.6" fill="#12f212"/>
<circle cx="1093.1" cy="332.2" r="5.6" fill="#12f212"/>
<circle cx="1113.8" cy="336.0" r="5.6" fill="#12f212"/>
<circle cx="1134.4" cy="331.2" r="5.6" fill="#12f212"/>
<circle cx="1154.0" cy="338.8" r="5.6" fill="#12f212"/>
<circle cx="1174.7" cy="336.9" r="5.6" fill="#12f212"/>
</g>
<g clip-path="url(#cp2)">
<path d="M93.0,741.0 L95.8,741.8 L98.5,742.7 L101.2,743.5 L103.8,741.3 L106.2,739.2 L108.8,737.0 L112.5,735.9 L116.2,734.7 L118.8,733.5 L121.2,732.2 L123.8,731.0 L127.5,730.0 L131.2,729.0 L133.4,727.1 L135.6,725.3 L137.8,723.4 L139.7,720.6 L146.2,701.9 L150.0,701.4 L153.8,701.0 L157.5,700.5 L161.2,700.0 L165.2,699.3 L169.2,698.6 L173.2,697.9 L177.2,697.2 L180.4,695.7 L183.6,694.2 L186.7,692.7 L189.9,691.2 L193.1,689.7 L196.2,687.6 L199.2,685.5 L202.2,683.4 L205.3,681.2 L208.1,679.4 L210.9,677.5 L213.8,675.6 L216.6,673.8 L219.4,671.9 L222.2,670.0 L225.0,668.1 L228.8,665.8 L232.5,663.4 L235.3,661.3 L238.1,659.2 L240.9,657.1 L243.8,655.0 L247.5,653.1 L251.2,651.2 L253.8,648.1 L256.2,645.0 L258.8,641.9 L260.6,638.6 L262.5,635.3 L279.4,624.0 L295.4,605.3 L311.4,591.2 L330.3,573.4 L349.6,555.6 L365.9,538.8 L383.8,520.0 L400.2,505.0 L419.0,500.9 L436.6,489.6 L454.0,482.1 L471.0,476.9 L488.4,477.0 L507.7,489.4 L525.3,499.8 L542.7,521.1 L561.3,552.4 L577.5,590.8 L595.0,652.3 L608.9,724.3" fill="none" stroke="#666666" stroke-width="1"/>
<circle cx="93.0" cy="741.0" r="5.6" fill="#000000"/>
<circle cx="95.8" cy="741.8" r="5.6" fill="#000000"/>
<circle cx="98.5" cy="742.7" r="5.6" fill="#000000"/>
<circle cx="101.2" cy="743.5" r="5.6" fill="#000000"/>
<circle cx="103.8" cy="741.3" r="5.6" fill="#000000"/>
<circle cx="106.2" cy="739.2" r="5.6" fill="#000000"/>
<circle cx="108.8" cy="737.0" r="5.6" fill="#000000"/>
<circle cx="112.5" cy="735.9" r="5.6" fill="#000000"/>
<circle cx="116.2" cy="734.7" r="5.6" fill="#000000"/>
<circle cx="118.8" cy="733.5" r="5.6" fill="#000000"/>
<circle cx="121.2" cy="732.2" r="5.6" fill="#000000"/>
<circle cx="123.8" cy="731.0" r="5.6" fill="#000000"/>
<circle cx="127.5" cy="730.0" r="5.6" fill="#000000"/>
<circle cx="131.2" cy="729.0" r="5.6" fill="#000000"/>
<circle cx="133.4" cy="727.1" r="5.6" fill="#000000"/>
<circle cx="135.6" cy="725.3" r="5.6" fill="#000000"/>
<circle cx="137.8" cy="723.4" r="5.6" fill="#000000"/>
<circle cx="139.7" cy="720.6" r="5.6" fill="#000000"/>
<circle cx="146.2" cy="701.9" r="5.6" fill="#000000"/>
<circle cx="150.0" cy="701.4" r="5.6" fill="#000000"/>
<circle cx="153.8" cy="701.0" r="5.6" fill="#000000"/>
<circle cx="157.5" cy="700.5" r="5.6" fill="#000000"/>
<circle cx="161.2" cy="700.0" r="5.6" fill="#000000"/>
<circle cx="165.2" cy="699.3" r="5.6" fill="#000000"/>
<circle cx="169.2" cy="698.6" r="5.6" fill="#000000"/>
<circle cx="173.2" cy="697.9" r="5.6" fill="#000000"/>
<circle cx="177.2" cy="697.2" r="5.6" fill="#000000"/>
<circle cx="180.4" cy="695.7" r="5.6" fill="#000000"/>
<circle cx="183.6" cy="694.2" r="5.6" fill="#000000"/>
<circle cx="186.7" cy="692.7" r="5.6" fill="#000000"/>
<circle cx="189.9" cy="691.2" r="5.6" fill="#000000"/>
<circle cx="193.1" cy="689.7" r="5.6" fill="#000000"/>
<circle cx="196.2" cy="687.6" r="5.6" fill="#000000"/>
<circle cx="199.2" cy="685.5" r="5.6" fill="#000000"/>
<circle cx="202.2" cy="683.4" r="5.6" fill="#000000"/>
<circle cx="205.3" cy="681.2" r="5.6" fill="#000000"/>
<circle cx="208.1" cy="679.4" r="5.6" fill="#000000"/>
<circle cx="210.9" cy="677.5" r="5.6" fill="#000000"/>
<circle cx="213.8" cy="675.6" r="5.6" fill="#000000"/>
<circle cx="216.6" cy="673.8" r="5.6" fill="#000000"/>
<circle cx="219.4" cy="671.9" r="5.6" fill="#000000"/>
<circle cx="222.2" cy="670.0" r="5.6" fill="#000000"/>
<circle cx="225.0" cy="668.1" r="5.6" fill="#000000"/>
<circle cx="228.8" cy="665.8" r="5.6" fill="#000000"/>
<circle cx="232.5" cy="663.4" r="5.6" fill="#000000"/>
<circle cx="235.3" cy="661.3" r="5.6" fill="#000000"/>
<circle cx="238.1" cy="659.2" r="5.6" fill="#000000"/>
<circle cx="240.9" cy="657.1" r="5.6" fill="#000000"/>
<circle cx="243.8" cy="655.0" r="5.6" fill="#000000"/>
<circle cx="247.5" cy="653.1" r="5.6" fill="#000000"/>
<circle cx="251.2" cy="651.2" r="5.6" fill="#000000"/>
<circle cx="253.8" cy="648.1" r="5.6" fill="#000000"/>
<circle cx="256.2" cy="645.0" r="5.6" fill="#000000"/>
<circle cx="258.8" cy="641.9" r="5.6" fill="#000000"/>
<circle cx="260.6" cy="638.6" r="5.6" fill="#000000"/>
<circle cx="262.5" cy="635.3" r="5.6" fill="#000000"/>
<circle cx="279.4" cy="624.0" r="5.6" fill="#000000"/>
<circle cx="295.4" cy="605.3" r="5.6" fill="#000000"/>
<circle cx="311.4" cy="591.2" r="5.6" fill="#000000"/>
<circle cx="330.3" cy="573.4" r="5.6" fill="#000000"/>
<circle cx="349.6" cy="555.6" r="5.6" fill="#000000"/>
<circle cx="365.9" cy="538.8" r="5.6" fill="#000000"/>
<circle cx="383.8" cy="520.0" r="5.6" fill="#000000"/>
<circle cx="400.2" cy="505.0" r="5.6" fill="#000000"/>
<circle cx="419.0" cy="500.9" r="5.6" fill="#000000"/>
<circle cx="436.6" cy="489.6" r="5.6" fill="#000000"/>
<circle cx="454.0" cy="482.1" r="5.6" fill="#000000"/>
<circle cx="471.0" cy="476.9" r="5.6" fill="#000000"/>
<circle cx="488.4" cy="477.0" r="5.6" fill="#000000"/>
<circle cx="507.7" cy="489.4" r="5.6" fill="#000000"/>
<circle cx="525.3" cy="499.8" r="5.6" fill="#000000"/>
<circle cx="542.7" cy="521.1" r="5.6" fill="#000000"/>
<circle cx="561.3" cy="552.4" r="5.6" fill="#000000"/>
<circle cx="577.5" cy="590.8" r="5.6" fill="#000000"/>
<circle cx="595.0" cy="652.3" r="5.6" fill="#000000"/>
<circle cx="608.9" cy="724.3" r="5.6" fill="#000000"/>
<path d="M148.1,705.6 L166.0,694.0 L183.8,682.2 L196.9,668.1 L211.9,655.9 L223.0,648.0 L234.4,640.0 L247.5,625.9 L259.0,619.0 L270.9,612.8 L285.9,598.8 L302.5,586.6 L322.8,569.7 L341.6,553.4 L359.8,537.2 L375.9,524.7 L395.0,510.6 L411.0,505.0 L428.8,499.4 L447.5,489.0 L464.0,488.0 L481.2,487.2 L499.3,491.0 L515.5,502.8 L533.4,525.7 L552.0,550.1 L569.4,587.3 L586.8,640.7 L604.2,708.0" fill="none" stroke="#a0a0f0" stroke-width="1"/>
<circle cx="148.1" cy="705.6" r="5.6" fill="#08f0fc"/>
<circle cx="166.0" cy="694.0" r="5.6" fill="#08f0fc"/>
<circle cx="183.8" cy="682.2" r="5.6" fill="#08f0fc"/>
<circle cx="196.9" cy="668.1" r="5.6" fill="#08f0fc"/>
<circle cx="211.9" cy="655.9" r="5.6" fill="#08f0fc"/>
<circle cx="223.0" cy="648.0" r="5.6" fill="#08f0fc"/>
<circle cx="234.4" cy="640.0" r="5.6" fill="#08f0fc"/>
<circle cx="247.5" cy="625.9" r="5.6" fill="#08f0fc"/>
<circle cx="259.0" cy="619.0" r="5.6" fill="#08f0fc"/>
<circle cx="270.9" cy="612.8" r="5.6" fill="#08f0fc"/>
<circle cx="285.9" cy="598.8" r="5.6" fill="#08f0fc"/>
<circle cx="302.5" cy="586.6" r="5.6" fill="#08f0fc"/>
<circle cx="322.8" cy="569.7" r="5.6" fill="#08f0fc"/>
<circle cx="341.6" cy="553.4" r="5.6" fill="#08f0fc"/>
<circle cx="359.8" cy="537.2" r="5.6" fill="#08f0fc"/>
<circle cx="375.9" cy="524.7" r="5.6" fill="#08f0fc"/>
<circle cx="395.0" cy="510.6" r="5.6" fill="#08f0fc"/>
<circle cx="411.0" cy="505.0" r="5.6" fill="#08f0fc"/>
<circle cx="428.8" cy="499.4" r="5.6" fill="#08f0fc"/>
<circle cx="447.5" cy="489.0" r="5.6" fill="#08f0fc"/>
<circle cx="464.0" cy="488.0" r="5.6" fill="#08f0fc"/>
<circle cx="481.2" cy="487.2" r="5.6" fill="#08f0fc"/>
<circle cx="499.3" cy="491.0" r="5.6" fill="#08f0fc"/>
<circle cx="515.5" cy="502.8" r="5.6" fill="#08f0fc"/>
<circle cx="533.4" cy="525.7" r="5.6" fill="#08f0fc"/>
<circle cx="552.0" cy="550.1" r="5.6" fill="#08f0fc"/>
<circle cx="569.4" cy="587.3" r="5.6" fill="#08f0fc"/>
<circle cx="586.8" cy="640.7" r="5.6" fill="#08f0fc"/>
<circle cx="604.2" cy="708.0" r="5.6" fill="#08f0fc"/>
<path d="M165.9,697.2 L178.1,687.8 L196.9,676.6 L215.6,666.2 L236.2,651.2 L250.3,641.9 L266.2,627.8 L282.2,614.7 L305.8,600.0 L320.3,584.7 L338.4,568.8 L358.4,552.8 L373.4,536.5 L393.1,517.8 L411.0,506.9 L427.8,496.6 L445.2,482.5 L462.9,484.0 L480.3,478.8 L498.3,478.8 L514.7,493.5 L534.6,504.8 L549.7,529.2 L568.2,559.4 L585.7,609.3 L601.9,682.5 L614.2,747.5" fill="none" stroke="#f48080" stroke-width="1"/>
<circle cx="165.9" cy="697.2" r="5.6" fill="#f20505"/>
<circle cx="178.1" cy="687.8" r="5.6" fill="#f20505"/>
<circle cx="196.9" cy="676.6" r="5.6" fill="#f20505"/>
<circle cx="215.6" cy="666.2" r="5.6" fill="#f20505"/>
<circle cx="236.2" cy="651.2" r="5.6" fill="#f20505"/>
<circle cx="250.3" cy="641.9" r="5.6" fill="#f20505"/>
<circle cx="266.2" cy="627.8" r="5.6" fill="#f20505"/>
<circle cx="282.2" cy="614.7" r="5.6" fill="#f20505"/>
<circle cx="305.8" cy="600.0" r="5.6" fill="#f20505"/>
<circle cx="320.3" cy="584.7" r="5.6" fill="#f20505"/>
<circle cx="338.4" cy="568.8" r="5.6" fill="#f20505"/>
<circle cx="358.4" cy="552.8" r="5.6" fill="#f20505"/>
<circle cx="373.4" cy="536.5" r="5.6" fill="#f20505"/>
<circle cx="393.1" cy="517.8" r="5.6" fill="#f20505"/>
<circle cx="411.0" cy="506.9" r="5.6" fill="#f20505"/>
<circle cx="427.8" cy="496.6" r="5.6" fill="#f20505"/>
<circle cx="445.2" cy="482.5" r="5.6" fill="#f20505"/>
<circle cx="462.9" cy="484.0" r="5.6" fill="#f20505"/>
<circle cx="480.3" cy="478.8" r="5.6" fill="#f20505"/>
<circle cx="498.3" cy="478.8" r="5.6" fill="#f20505"/>
<circle cx="514.7" cy="493.5" r="5.6" fill="#f20505"/>
<circle cx="534.6" cy="504.8" r="5.6" fill="#f20505"/>
<circle cx="549.7" cy="529.2" r="5.6" fill="#f20505"/>
<circle cx="568.2" cy="559.4" r="5.6" fill="#f20505"/>
<circle cx="585.7" cy="609.3" r="5.6" fill="#f20505"/>
<circle cx="601.9" cy="682.5" r="5.6" fill="#f20505"/>
<circle cx="614.2" cy="747.5" r="5.6" fill="#f20505"/>
<path d="M153.8,693.4 L168.8,685.9 L188.4,671.9 L204.0,658.8 L221.2,646.6 L241.0,630.6 L256.0,619.4 L270.9,604.4 L293.5,587.5 L308.8,574.4 L328.4,559.4 L340.6,543.4 L362.2,524.7" fill="none" stroke="#80e080" stroke-width="1"/>
<path d="M517.5,514.2 L535.7,515.3 L554.3,536.2 L570.6,566.4 L587.3,622.1 L605.4,696.4" fill="none" stroke="#80e080" stroke-width="1"/>
<circle cx="153.8" cy="693.4" r="5.6" fill="#12f212"/>
<circle cx="168.8" cy="685.9" r="5.6" fill="#12f212"/>
<circle cx="188.4" cy="671.9" r="5.6" fill="#12f212"/>
<circle cx="204.0" cy="658.8" r="5.6" fill="#12f212"/>
<circle cx="221.2" cy="646.6" r="5.6" fill="#12f212"/>
<circle cx="241.0" cy="630.6" r="5.6" fill="#12f212"/>
<circle cx="256.0" cy="619.4" r="5.6" fill="#12f212"/>
<circle cx="270.9" cy="604.4" r="5.6" fill="#12f212"/>
<circle cx="293.5" cy="587.5" r="5.6" fill="#12f212"/>
<circle cx="308.8" cy="574.4" r="5.6" fill="#12f212"/>
<circle cx="328.4" cy="559.4" r="5.6" fill="#12f212"/>
<circle cx="340.6" cy="543.4" r="5.6" fill="#12f212"/>
<circle cx="362.2" cy="524.7" r="5.6" fill="#12f212"/>
<circle cx="517.5" cy="514.2" r="5.6" fill="#12f212"/>
<circle cx="535.7" cy="515.3" r="5.6" fill="#12f212"/>
<circle cx="554.3" cy="536.2" r="5.6" fill="#12f212"/>
<circle cx="570.6" cy="566.4" r="5.6" fill="#12f212"/>
<circle cx="587.3" cy="622.1" r="5.6" fill="#12f212"/>
<circle cx="605.4" cy="696.4" r="5.6" fill="#12f212"/>
</g>
<g clip-path="url(#cp3)">
<path d="M695.2,719.8 L713.4,712.8 L732.8,700.6 L752.8,684.7 L768.8,666.0 L787.5,651.9 L806.2,638.8 L833.4,614.4 L852.2,596.6 L874.2,579.3 L889.7,559.4 L915.0,538.8 L936.6,521.9 L956.2,494.7 L975.9,470.3 L996.6,468.4 L1017.2,463.8 L1038.8,454.4 L1059.7,452.3 L1077.3,450.8 L1097.0,461.6 L1118.1,486.9 L1140.1,514.8 L1159.9,550.8 L1179.6,628.6 L1190.1,705.2" fill="none" stroke="#666666" stroke-width="1"/>
<circle cx="695.2" cy="719.8" r="5.6" fill="#000000"/>
<circle cx="713.4" cy="712.8" r="5.6" fill="#000000"/>
<circle cx="732.8" cy="700.6" r="5.6" fill="#000000"/>
<circle cx="752.8" cy="684.7" r="5.6" fill="#000000"/>
<circle cx="768.8" cy="666.0" r="5.6" fill="#000000"/>
<circle cx="787.5" cy="651.9" r="5.6" fill="#000000"/>
<circle cx="806.2" cy="638.8" r="5.6" fill="#000000"/>
<circle cx="833.4" cy="614.4" r="5.6" fill="#000000"/>
<circle cx="852.2" cy="596.6" r="5.6" fill="#000000"/>
<circle cx="874.2" cy="579.3" r="5.6" fill="#000000"/>
<circle cx="889.7" cy="559.4" r="5.6" fill="#000000"/>
<circle cx="915.0" cy="538.8" r="5.6" fill="#000000"/>
<circle cx="936.6" cy="521.9" r="5.6" fill="#000000"/>
<circle cx="956.2" cy="494.7" r="5.6" fill="#000000"/>
<circle cx="975.9" cy="470.3" r="5.6" fill="#000000"/>
<circle cx="996.6" cy="468.4" r="5.6" fill="#000000"/>
<circle cx="1017.2" cy="463.8" r="5.6" fill="#000000"/>
<circle cx="1038.8" cy="454.4" r="5.6" fill="#000000"/>
<circle cx="1059.7" cy="452.3" r="5.6" fill="#000000"/>
<circle cx="1077.3" cy="450.8" r="5.6" fill="#000000"/>
<circle cx="1097.0" cy="461.6" r="5.6" fill="#000000"/>
<circle cx="1118.1" cy="486.9" r="5.6" fill="#000000"/>
<circle cx="1140.1" cy="514.8" r="5.6" fill="#000000"/>
<circle cx="1159.9" cy="550.8" r="5.6" fill="#000000"/>
<circle cx="1179.6" cy="628.6" r="5.6" fill="#000000"/>
<circle cx="1190.1" cy="705.2" r="5.6" fill="#000000"/>
<path d="M743.4,688.4 L752.8,678.1 L772.5,662.2 L792.2,648.1 L813.8,632.2 L834.4,616.2 L850.3,596.6 L872.8,578.4 L893.4,562.2 L915.0,540.6 L933.8,520.0 L955.3,496.6 L975.0,477.8 L999.4,474.0 L1018.1,468.4 L1038.8,457.2 L1060.3,450.2 L1077.3,448.7 L1097.5,457.3 L1118.1,483.0 L1137.8,515.9 L1158.7,548.0 L1178.5,642.5" fill="none" stroke="#a0a0f0" stroke-width="1"/>
<circle cx="743.4" cy="688.4" r="5.6" fill="#08f0fc"/>
<circle cx="752.8" cy="678.1" r="5.6" fill="#08f0fc"/>
<circle cx="772.5" cy="662.2" r="5.6" fill="#08f0fc"/>
<circle cx="792.2" cy="648.1" r="5.6" fill="#08f0fc"/>
<circle cx="813.8" cy="632.2" r="5.6" fill="#08f0fc"/>
<circle cx="834.4" cy="616.2" r="5.6" fill="#08f0fc"/>
<circle cx="850.3" cy="596.6" r="5.6" fill="#08f0fc"/>
<circle cx="872.8" cy="578.4" r="5.6" fill="#08f0fc"/>
<circle cx="893.4" cy="562.2" r="5.6" fill="#08f0fc"/>
<circle cx="915.0" cy="540.6" r="5.6" fill="#08f0fc"/>
<circle cx="933.8" cy="520.0" r="5.6" fill="#08f0fc"/>
<circle cx="955.3" cy="496.6" r="5.6" fill="#08f0fc"/>
<circle cx="975.0" cy="477.8" r="5.6" fill="#08f0fc"/>
<circle cx="999.4" cy="474.0" r="5.6" fill="#08f0fc"/>
<circle cx="1018.1" cy="468.4" r="5.6" fill="#08f0fc"/>
<circle cx="1038.8" cy="457.2" r="5.6" fill="#08f0fc"/>
<circle cx="1060.3" cy="450.2" r="5.6" fill="#08f0fc"/>
<circle cx="1077.3" cy="448.7" r="5.6" fill="#08f0fc"/>
<circle cx="1097.5" cy="457.3" r="5.6" fill="#08f0fc"/>
<circle cx="1118.1" cy="483.0" r="5.6" fill="#08f0fc"/>
<circle cx="1137.8" cy="515.9" r="5.6" fill="#08f0fc"/>
<circle cx="1158.7" cy="548.0" r="5.6" fill="#08f0fc"/>
<circle cx="1178.5" cy="642.5" r="5.6" fill="#08f0fc"/>
<path d="M763.1,678.5 L783.4,664.1 L804.4,649.1 L819.4,632.2 L843.8,614.4 L860.6,595.6 L885.9,578.3 L902.4,558.4 L926.2,538.8 L946.0,517.2 L967.1,491.9 L986.2,467.5 L1006.5,467.5 L1025.6,459.1 L1046.2,451.6 L1067.0,441.4 L1087.7,443.5 L1107.4,460.1 L1128.5,486.9 L1149.4,520.6 L1169.2,568.2 L1188.9,657.6 L1192.8,692.5" fill="none" stroke="#f48080" stroke-width="1"/>
<circle cx="763.1" cy="678.5" r="5.6" fill="#f20505"/>
<circle cx="783.4" cy="664.1" r="5.6" fill="#f20505"/>
<circle cx="804.4" cy="649.1" r="5.6" fill="#f20505"/>
<circle cx="819.4" cy="632.2" r="5.6" fill="#f20505"/>
<circle cx="843.8" cy="614.4" r="5.6" fill="#f20505"/>
<circle cx="860.6" cy="595.6" r="5.6" fill="#f20505"/>
<circle cx="885.9" cy="578.3" r="5.6" fill="#f20505"/>
<circle cx="902.4" cy="558.4" r="5.6" fill="#f20505"/>
<circle cx="926.2" cy="538.8" r="5.6" fill="#f20505"/>
<circle cx="946.0" cy="517.2" r="5.6" fill="#f20505"/>
<circle cx="967.1" cy="491.9" r="5.6" fill="#f20505"/>
<circle cx="986.2" cy="467.5" r="5.6" fill="#f20505"/>
<circle cx="1006.5" cy="467.5" r="5.6" fill="#f20505"/>
<circle cx="1025.6" cy="459.1" r="5.6" fill="#f20505"/>
<circle cx="1046.2" cy="451.6" r="5.6" fill="#f20505"/>
<circle cx="1067.0" cy="441.4" r="5.6" fill="#f20505"/>
<circle cx="1087.7" cy="443.5" r="5.6" fill="#f20505"/>
<circle cx="1107.4" cy="460.1" r="5.6" fill="#f20505"/>
<circle cx="1128.5" cy="486.9" r="5.6" fill="#f20505"/>
<circle cx="1149.4" cy="520.6" r="5.6" fill="#f20505"/>
<circle cx="1169.2" cy="568.2" r="5.6" fill="#f20505"/>
<circle cx="1188.9" cy="657.6" r="5.6" fill="#f20505"/>
<circle cx="1192.8" cy="692.5" r="5.6" fill="#f20505"/>
<path d="M750.0,683.8 L770.2,669.7 L787.1,655.6 L807.2,640.6 L825.0,622.8 L844.7,605.9 L868.1,586.2 L890.9,567.3 L905.6,547.2 L931.0,528.4 L950.6,505.0 L969.4,490.0 L990.9,476.0 L1013.4,472.2 L1033.1,461.0 L1052.8,446.9 L1073.1,445.0 L1092.3,448.7 L1113.4,467.2 L1134.3,504.3 L1154.1,534.5 L1175.0,601.9" fill="none" stroke="#80e080" stroke-width="1"/>
<circle cx="750.0" cy="683.8" r="5.6" fill="#12f212"/>
<circle cx="770.2" cy="669.7" r="5.6" fill="#12f212"/>
<circle cx="787.1" cy="655.6" r="5.6" fill="#12f212"/>
<circle cx="807.2" cy="640.6" r="5.6" fill="#12f212"/>
<circle cx="825.0" cy="622.8" r="5.6" fill="#12f212"/>
<circle cx="844.7" cy="605.9" r="5.6" fill="#12f212"/>
<circle cx="868.1" cy="586.2" r="5.6" fill="#12f212"/>
<circle cx="890.9" cy="567.3" r="5.6" fill="#12f212"/>
<circle cx="905.6" cy="547.2" r="5.6" fill="#12f212"/>
<circle cx="931.0" cy="528.4" r="5.6" fill="#12f212"/>
<circle cx="950.6" cy="505.0" r="5.6" fill="#12f212"/>
<circle cx="969.4" cy="490.0" r="5.6" fill="#12f212"/>
<circle cx="990.9" cy="476.0" r="5.6" fill="#12f212"/>
<circle cx="1013.4" cy="472.2" r="5.6" fill="#12f212"/>
<circle cx="1033.1" cy="461.0" r="5.6" fill="#12f212"/>
<circle cx="1052.8" cy="446.9" r="5.6" fill="#12f212"/>
<circle cx="1073.1" cy="445.0" r="5.6" fill="#12f212"/>
<circle cx="1092.3" cy="448.7" r="5.6" fill="#12f212"/>
<circle cx="1113.4" cy="467.2" r="5.6" fill="#12f212"/>
<circle cx="1134.3" cy="504.3" r="5.6" fill="#12f212"/>
<circle cx="1154.1" cy="534.5" r="5.6" fill="#12f212"/>
<circle cx="1175.0" cy="601.9" r="5.6" fill="#12f212"/>
</g>
<g clip-path="url(#cp4)">
<path d="M93.0,855.5 L97.5,855.6 L100.0,856.5 L102.5,857.5 L105.0,858.4 L108.3,859.3 L111.6,860.3 L113.8,862.5 L115.9,864.7 L118.1,866.9 L120.6,867.8 L123.1,868.8 L125.6,869.7 L128.9,871.1 L132.2,872.5 L135.9,872.3 L139.7,872.1 L145.3,847.1 L148.6,848.2 L151.9,849.4 L155.7,851.2 L159.4,853.1 L162.5,853.9 L165.6,854.6 L168.8,855.4 L171.9,856.6 L175.0,857.7 L178.1,858.9 L181.4,860.1 L184.7,861.2 L188.0,862.4 L191.2,863.6 L195.0,864.5 L198.8,865.5 L202.5,866.5 L206.2,867.4 L210.0,868.6 L213.8,869.8 L217.5,870.9 L221.2,872.1 L224.5,873.0 L227.8,874.0 L231.1,875.0 L234.4,875.9 L238.2,877.1 L241.9,878.4 L245.7,879.6 L249.4,880.9 L253.1,882.1 L256.9,883.2 L260.6,884.4 L278.4,891.2 L295.3,896.9 L311.2,900.6 L329.2,906.7 L350.0,909.6 L366.0,915.6 L383.8,918.4 L400.6,922.2 L418.4,930.6 L436.2,936.2 L453.5,941.9 L471.9,945.6 L488.8,954.0 L506.3,965.2 L525.2,974.0 L543.2,986.6 L560.8,1006.9 L577.5,1030.5 L595.8,1064.0 L609.4,1102.0" fill="none" stroke="#666666" stroke-width="1"/>
<circle cx="93.0" cy="855.5" r="5.6" fill="#000000"/>
<circle cx="97.5" cy="855.6" r="5.6" fill="#000000"/>
<circle cx="100.0" cy="856.5" r="5.6" fill="#000000"/>
<circle cx="102.5" cy="857.5" r="5.6" fill="#000000"/>
<circle cx="105.0" cy="858.4" r="5.6" fill="#000000"/>
<circle cx="108.3" cy="859.3" r="5.6" fill="#000000"/>
<circle cx="111.6" cy="860.3" r="5.6" fill="#000000"/>
<circle cx="113.8" cy="862.5" r="5.6" fill="#000000"/>
<circle cx="115.9" cy="864.7" r="5.6" fill="#000000"/>
<circle cx="118.1" cy="866.9" r="5.6" fill="#000000"/>
<circle cx="120.6" cy="867.8" r="5.6" fill="#000000"/>
<circle cx="123.1" cy="868.8" r="5.6" fill="#000000"/>
<circle cx="125.6" cy="869.7" r="5.6" fill="#000000"/>
<circle cx="128.9" cy="871.1" r="5.6" fill="#000000"/>
<circle cx="132.2" cy="872.5" r="5.6" fill="#000000"/>
<circle cx="135.9" cy="872.3" r="5.6" fill="#000000"/>
<circle cx="139.7" cy="872.1" r="5.6" fill="#000000"/>
<circle cx="145.3" cy="847.1" r="5.6" fill="#000000"/>
<circle cx="148.6" cy="848.2" r="5.6" fill="#000000"/>
<circle cx="151.9" cy="849.4" r="5.6" fill="#000000"/>
<circle cx="155.7" cy="851.2" r="5.6" fill="#000000"/>
<circle cx="159.4" cy="853.1" r="5.6" fill="#000000"/>
<circle cx="162.5" cy="853.9" r="5.6" fill="#000000"/>
<circle cx="165.6" cy="854.6" r="5.6" fill="#000000"/>
<circle cx="168.8" cy="855.4" r="5.6" fill="#000000"/>
<circle cx="171.9" cy="856.6" r="5.6" fill="#000000"/>
<circle cx="175.0" cy="857.7" r="5.6" fill="#000000"/>
<circle cx="178.1" cy="858.9" r="5.6" fill="#000000"/>
<circle cx="181.4" cy="860.1" r="5.6" fill="#000000"/>
<circle cx="184.7" cy="861.2" r="5.6" fill="#000000"/>
<circle cx="188.0" cy="862.4" r="5.6" fill="#000000"/>
<circle cx="191.2" cy="863.6" r="5.6" fill="#000000"/>
<circle cx="195.0" cy="864.5" r="5.6" fill="#000000"/>
<circle cx="198.8" cy="865.5" r="5.6" fill="#000000"/>
<circle cx="202.5" cy="866.5" r="5.6" fill="#000000"/>
<circle cx="206.2" cy="867.4" r="5.6" fill="#000000"/>
<circle cx="210.0" cy="868.6" r="5.6" fill="#000000"/>
<circle cx="213.8" cy="869.8" r="5.6" fill="#000000"/>
<circle cx="217.5" cy="870.9" r="5.6" fill="#000000"/>
<circle cx="221.2" cy="872.1" r="5.6" fill="#000000"/>
<circle cx="224.5" cy="873.0" r="5.6" fill="#000000"/>
<circle cx="227.8" cy="874.0" r="5.6" fill="#000000"/>
<circle cx="231.1" cy="875.0" r="5.6" fill="#000000"/>
<circle cx="234.4" cy="875.9" r="5.6" fill="#000000"/>
<circle cx="238.2" cy="877.1" r="5.6" fill="#000000"/>
<circle cx="241.9" cy="878.4" r="5.6" fill="#000000"/>
<circle cx="245.7" cy="879.6" r="5.6" fill="#000000"/>
<circle cx="249.4" cy="880.9" r="5.6" fill="#000000"/>
<circle cx="253.1" cy="882.1" r="5.6" fill="#000000"/>
<circle cx="256.9" cy="883.2" r="5.6" fill="#000000"/>
<circle cx="260.6" cy="884.4" r="5.6" fill="#000000"/>
<circle cx="278.4" cy="891.2" r="5.6" fill="#000000"/>
<circle cx="295.3" cy="896.9" r="5.6" fill="#000000"/>
<circle cx="311.2" cy="900.6" r="5.6" fill="#000000"/>
<circle cx="329.2" cy="906.7" r="5.6" fill="#000000"/>
<circle cx="350.0" cy="909.6" r="5.6" fill="#000000"/>
<circle cx="366.0" cy="915.6" r="5.6" fill="#000000"/>
<circle cx="383.8" cy="918.4" r="5.6" fill="#000000"/>
<circle cx="400.6" cy="922.2" r="5.6" fill="#000000"/>
<circle cx="418.4" cy="930.6" r="5.6" fill="#000000"/>
<circle cx="436.2" cy="936.2" r="5.6" fill="#000000"/>
<circle cx="453.5" cy="941.9" r="5.6" fill="#000000"/>
<circle cx="471.9" cy="945.6" r="5.6" fill="#000000"/>
<circle cx="488.8" cy="954.0" r="5.6" fill="#000000"/>
<circle cx="506.3" cy="965.2" r="5.6" fill="#000000"/>
<circle cx="525.2" cy="974.0" r="5.6" fill="#000000"/>
<circle cx="543.2" cy="986.6" r="5.6" fill="#000000"/>
<circle cx="560.8" cy="1006.9" r="5.6" fill="#000000"/>
<circle cx="577.5" cy="1030.5" r="5.6" fill="#000000"/>
<circle cx="595.8" cy="1064.0" r="5.6" fill="#000000"/>
<circle cx="609.4" cy="1102.0" r="5.6" fill="#000000"/>
<path d="M147.2,836.9 L163.0,847.0 L182.0,854.0 L197.0,858.8 L214.8,864.4 L234.5,870.0 L249.5,876.5 L261.0,880.0 L272.8,881.9 L287.8,888.4 L301.9,895.0 L320.0,900.0 L340.0,905.0 L357.0,912.0 L376.2,917.5 L395.0,922.2 L410.9,928.8 L429.0,933.0 L447.5,938.1 L464.4,948.4 L481.2,954.0 L499.5,961.4 L516.0,975.0 L533.6,988.7 L551.6,1004.7 L569.1,1029.8 L585.8,1057.1 L604.9,1094.4" fill="none" stroke="#a0a0f0" stroke-width="1"/>
<circle cx="147.2" cy="836.9" r="5.6" fill="#08f0fc"/>
<circle cx="163.0" cy="847.0" r="5.6" fill="#08f0fc"/>
<circle cx="182.0" cy="854.0" r="5.6" fill="#08f0fc"/>
<circle cx="197.0" cy="858.8" r="5.6" fill="#08f0fc"/>
<circle cx="214.8" cy="864.4" r="5.6" fill="#08f0fc"/>
<circle cx="234.5" cy="870.0" r="5.6" fill="#08f0fc"/>
<circle cx="249.5" cy="876.5" r="5.6" fill="#08f0fc"/>
<circle cx="261.0" cy="880.0" r="5.6" fill="#08f0fc"/>
<circle cx="272.8" cy="881.9" r="5.6" fill="#08f0fc"/>
<circle cx="287.8" cy="888.4" r="5.6" fill="#08f0fc"/>
<circle cx="301.9" cy="895.0" r="5.6" fill="#08f0fc"/>
<circle cx="320.0" cy="900.0" r="5.6" fill="#08f0fc"/>
<circle cx="340.0" cy="905.0" r="5.6" fill="#08f0fc"/>
<circle cx="357.0" cy="912.0" r="5.6" fill="#08f0fc"/>
<circle cx="376.2" cy="917.5" r="5.6" fill="#08f0fc"/>
<circle cx="395.0" cy="922.2" r="5.6" fill="#08f0fc"/>
<circle cx="410.9" cy="928.8" r="5.6" fill="#08f0fc"/>
<circle cx="429.0" cy="933.0" r="5.6" fill="#08f0fc"/>
<circle cx="447.5" cy="938.1" r="5.6" fill="#08f0fc"/>
<circle cx="464.4" cy="948.4" r="5.6" fill="#08f0fc"/>
<circle cx="481.2" cy="954.0" r="5.6" fill="#08f0fc"/>
<circle cx="499.5" cy="961.4" r="5.6" fill="#08f0fc"/>
<circle cx="516.0" cy="975.0" r="5.6" fill="#08f0fc"/>
<circle cx="533.6" cy="988.7" r="5.6" fill="#08f0fc"/>
<circle cx="551.6" cy="1004.7" r="5.6" fill="#08f0fc"/>
<circle cx="569.1" cy="1029.8" r="5.6" fill="#08f0fc"/>
<circle cx="585.8" cy="1057.1" r="5.6" fill="#08f0fc"/>
<circle cx="604.9" cy="1094.4" r="5.6" fill="#08f0fc"/>
<path d="M165.9,841.6 L178.5,848.1 L196.9,851.9 L215.6,857.1 L235.9,862.8 L250.9,870.2 L266.2,874.4 L282.2,879.6 L305.6,886.0 L321.0,892.5 L338.8,898.8 L358.4,903.4 L374.4,910.9 L393.1,914.7 L411.5,922.2 L427.8,930.6 L444.7,932.5 L462.9,941.5 L480.3,946.6 L498.4,953.6 L514.6,967.7 L533.6,974.5 L549.9,991.3 L568.4,1011.5 L585.1,1040.4 L602.6,1079.2 L614.0,1115.0" fill="none" stroke="#f48080" stroke-width="1"/>
<circle cx="165.9" cy="841.6" r="5.6" fill="#f20505"/>
<circle cx="178.5" cy="848.1" r="5.6" fill="#f20505"/>
<circle cx="196.9" cy="851.9" r="5.6" fill="#f20505"/>
<circle cx="215.6" cy="857.1" r="5.6" fill="#f20505"/>
<circle cx="235.9" cy="862.8" r="5.6" fill="#f20505"/>
<circle cx="250.9" cy="870.2" r="5.6" fill="#f20505"/>
<circle cx="266.2" cy="874.4" r="5.6" fill="#f20505"/>
<circle cx="282.2" cy="879.6" r="5.6" fill="#f20505"/>
<circle cx="305.6" cy="886.0" r="5.6" fill="#f20505"/>
<circle cx="321.0" cy="892.5" r="5.6" fill="#f20505"/>
<circle cx="338.8" cy="898.8" r="5.6" fill="#f20505"/>
<circle cx="358.4" cy="903.4" r="5.6" fill="#f20505"/>
<circle cx="374.4" cy="910.9" r="5.6" fill="#f20505"/>
<circle cx="393.1" cy="914.7" r="5.6" fill="#f20505"/>
<circle cx="411.5" cy="922.2" r="5.6" fill="#f20505"/>
<circle cx="427.8" cy="930.6" r="5.6" fill="#f20505"/>
<circle cx="444.7" cy="932.5" r="5.6" fill="#f20505"/>
<circle cx="462.9" cy="941.5" r="5.6" fill="#f20505"/>
<circle cx="480.3" cy="946.6" r="5.6" fill="#f20505"/>
<circle cx="498.4" cy="953.6" r="5.6" fill="#f20505"/>
<circle cx="514.6" cy="967.7" r="5.6" fill="#f20505"/>
<circle cx="533.6" cy="974.5" r="5.6" fill="#f20505"/>
<circle cx="549.9" cy="991.3" r="5.6" fill="#f20505"/>
<circle cx="568.4" cy="1011.5" r="5.6" fill="#f20505"/>
<circle cx="585.1" cy="1040.4" r="5.6" fill="#f20505"/>
<circle cx="602.6" cy="1079.2" r="5.6" fill="#f20505"/>
<circle cx="614.0" cy="1115.0" r="5.6" fill="#f20505"/>
<path d="M153.8,843.4 L168.8,849.6 L187.5,854.7 L204.4,861.2 L222.2,867.8 L241.9,872.5 L255.9,879.0 L270.0,885.6 L293.4,890.3 L309.4,895.9 L328.3,901.1 L341.6,908.1 L362.2,910.9" fill="none" stroke="#80e080" stroke-width="1"/>
<path d="M517.6,980.3 L535.2,979.9 L554.1,995.4 L569.9,1016.8 L587.4,1048.0 L605.6,1086.0" fill="none" stroke="#80e080" stroke-width="1"/>
<circle cx="153.8" cy="843.4" r="5.6" fill="#12f212"/>
<circle cx="168.8" cy="849.6" r="5.6" fill="#12f212"/>
<circle cx="187.5" cy="854.7" r="5.6" fill="#12f212"/>
<circle cx="204.4" cy="861.2" r="5.6" fill="#12f212"/>
<circle cx="222.2" cy="867.8" r="5.6" fill="#12f212"/>
<circle cx="241.9" cy="872.5" r="5.6" fill="#12f212"/>
<circle cx="255.9" cy="879.0" r="5.6" fill="#12f212"/>
<circle cx="270.0" cy="885.6" r="5.6" fill="#12f212"/>
<circle cx="293.4" cy="890.3" r="5.6" fill="#12f212"/>
<circle cx="309.4" cy="895.9" r="5.6" fill="#12f212"/>
<circle cx="328.3" cy="901.1" r="5.6" fill="#12f212"/>
<circle cx="341.6" cy="908.1" r="5.6" fill="#12f212"/>
<circle cx="362.2" cy="910.9" r="5.6" fill="#12f212"/>
<circle cx="517.6" cy="980.3" r="5.6" fill="#12f212"/>
<circle cx="535.2" cy="979.9" r="5.6" fill="#12f212"/>
<circle cx="554.1" cy="995.4" r="5.6" fill="#12f212"/>
<circle cx="569.9" cy="1016.8" r="5.6" fill="#12f212"/>
<circle cx="587.4" cy="1048.0" r="5.6" fill="#12f212"/>
<circle cx="605.6" cy="1086.0" r="5.6" fill="#12f212"/>
</g>
<g clip-path="url(#cp5)">
<path d="M695.2,808.2 L713.4,818.1 L732.8,825.6 L750.9,833.5 L768.8,839.1 L788.4,845.3 L813.8,849.6 L832.5,855.6 L851.2,862.2 L874.7,868.8 L890.2,875.3 L914.5,881.4 L936.6,890.3 L955.3,895.9 L975.9,899.7 L995.6,907.2 L1017.2,911.9 L1038.8,918.4 L1059.4,928.8 L1077.2,936.2 L1097.5,947.0 L1118.2,962.9 L1138.1,980.9 L1159.2,1009.3 L1180.8,1043.9 L1189.5,1087.9" fill="none" stroke="#666666" stroke-width="1"/>
<circle cx="695.2" cy="808.2" r="5.6" fill="#000000"/>
<circle cx="713.4" cy="818.1" r="5.6" fill="#000000"/>
<circle cx="732.8" cy="825.6" r="5.6" fill="#000000"/>
<circle cx="750.9" cy="833.5" r="5.6" fill="#000000"/>
<circle cx="768.8" cy="839.1" r="5.6" fill="#000000"/>
<circle cx="788.4" cy="845.3" r="5.6" fill="#000000"/>
<circle cx="813.8" cy="849.6" r="5.6" fill="#000000"/>
<circle cx="832.5" cy="855.6" r="5.6" fill="#000000"/>
<circle cx="851.2" cy="862.2" r="5.6" fill="#000000"/>
<circle cx="874.7" cy="868.8" r="5.6" fill="#000000"/>
<circle cx="890.2" cy="875.3" r="5.6" fill="#000000"/>
<circle cx="914.5" cy="881.4" r="5.6" fill="#000000"/>
<circle cx="936.6" cy="890.3" r="5.6" fill="#000000"/>
<circle cx="955.3" cy="895.9" r="5.6" fill="#000000"/>
<circle cx="975.9" cy="899.7" r="5.6" fill="#000000"/>
<circle cx="995.6" cy="907.2" r="5.6" fill="#000000"/>
<circle cx="1017.2" cy="911.9" r="5.6" fill="#000000"/>
<circle cx="1038.8" cy="918.4" r="5.6" fill="#000000"/>
<circle cx="1059.4" cy="928.8" r="5.6" fill="#000000"/>
<circle cx="1077.2" cy="936.2" r="5.6" fill="#000000"/>
<circle cx="1097.5" cy="947.0" r="5.6" fill="#000000"/>
<circle cx="1118.2" cy="962.9" r="5.6" fill="#000000"/>
<circle cx="1138.1" cy="980.9" r="5.6" fill="#000000"/>
<circle cx="1159.2" cy="1009.3" r="5.6" fill="#000000"/>
<circle cx="1180.8" cy="1043.9" r="5.6" fill="#000000"/>
<circle cx="1189.5" cy="1087.9" r="5.6" fill="#000000"/>
<path d="M744.4,820.0 L764.0,828.4 L786.0,835.0 L813.8,842.5 L835.3,849.1 L850.3,858.4 L873.8,865.0 L892.5,872.5 L915.0,877.2 L935.0,886.0 L955.3,892.2 L976.9,894.0 L997.5,903.4 L1017.2,909.1 L1038.8,911.0 L1059.4,926.0 L1078.1,934.4 L1098.0,943.8 L1118.2,960.5 L1138.3,978.3 L1158.5,1004.2 L1178.7,1046.8" fill="none" stroke="#a0a0f0" stroke-width="1"/>
<circle cx="744.4" cy="820.0" r="5.6" fill="#08f0fc"/>
<circle cx="764.0" cy="828.4" r="5.6" fill="#08f0fc"/>
<circle cx="786.0" cy="835.0" r="5.6" fill="#08f0fc"/>
<circle cx="813.8" cy="842.5" r="5.6" fill="#08f0fc"/>
<circle cx="835.3" cy="849.1" r="5.6" fill="#08f0fc"/>
<circle cx="850.3" cy="858.4" r="5.6" fill="#08f0fc"/>
<circle cx="873.8" cy="865.0" r="5.6" fill="#08f0fc"/>
<circle cx="892.5" cy="872.5" r="5.6" fill="#08f0fc"/>
<circle cx="915.0" cy="877.2" r="5.6" fill="#08f0fc"/>
<circle cx="935.0" cy="886.0" r="5.6" fill="#08f0fc"/>
<circle cx="955.3" cy="892.2" r="5.6" fill="#08f0fc"/>
<circle cx="976.9" cy="894.0" r="5.6" fill="#08f0fc"/>
<circle cx="997.5" cy="903.4" r="5.6" fill="#08f0fc"/>
<circle cx="1017.2" cy="909.1" r="5.6" fill="#08f0fc"/>
<circle cx="1038.8" cy="911.0" r="5.6" fill="#08f0fc"/>
<circle cx="1059.4" cy="926.0" r="5.6" fill="#08f0fc"/>
<circle cx="1078.1" cy="934.4" r="5.6" fill="#08f0fc"/>
<circle cx="1098.0" cy="943.8" r="5.6" fill="#08f0fc"/>
<circle cx="1118.2" cy="960.5" r="5.6" fill="#08f0fc"/>
<circle cx="1138.3" cy="978.3" r="5.6" fill="#08f0fc"/>
<circle cx="1158.5" cy="1004.2" r="5.6" fill="#08f0fc"/>
<circle cx="1178.7" cy="1046.8" r="5.6" fill="#08f0fc"/>
<path d="M762.2,828.4 L781.5,832.2 L804.4,837.8 L820.3,844.4 L843.8,851.0 L861.6,855.6 L885.0,863.1 L901.9,869.2 L926.2,877.2 L944.1,887.5 L966.6,890.3 L986.2,892.2 L1005.9,904.4 L1025.6,910.9 L1046.2,914.7 L1067.8,921.2 L1088.4,929.7 L1108.0,943.7 L1128.5,960.0 L1148.4,983.3 L1168.6,1015.8 L1188.8,1060.5 L1192.7,1074.2" fill="none" stroke="#f48080" stroke-width="1"/>
<circle cx="762.2" cy="828.4" r="5.6" fill="#f20505"/>
<circle cx="781.5" cy="832.2" r="5.6" fill="#f20505"/>
<circle cx="804.4" cy="837.8" r="5.6" fill="#f20505"/>
<circle cx="820.3" cy="844.4" r="5.6" fill="#f20505"/>
<circle cx="843.8" cy="851.0" r="5.6" fill="#f20505"/>
<circle cx="861.6" cy="855.6" r="5.6" fill="#f20505"/>
<circle cx="885.0" cy="863.1" r="5.6" fill="#f20505"/>
<circle cx="901.9" cy="869.2" r="5.6" fill="#f20505"/>
<circle cx="926.2" cy="877.2" r="5.6" fill="#f20505"/>
<circle cx="944.1" cy="887.5" r="5.6" fill="#f20505"/>
<circle cx="966.6" cy="890.3" r="5.6" fill="#f20505"/>
<circle cx="986.2" cy="892.2" r="5.6" fill="#f20505"/>
<circle cx="1005.9" cy="904.4" r="5.6" fill="#f20505"/>
<circle cx="1025.6" cy="910.9" r="5.6" fill="#f20505"/>
<circle cx="1046.2" cy="914.7" r="5.6" fill="#f20505"/>
<circle cx="1067.8" cy="921.2" r="5.6" fill="#f20505"/>
<circle cx="1088.4" cy="929.7" r="5.6" fill="#f20505"/>
<circle cx="1108.0" cy="943.7" r="5.6" fill="#f20505"/>
<circle cx="1128.5" cy="960.0" r="5.6" fill="#f20505"/>
<circle cx="1148.4" cy="983.3" r="5.6" fill="#f20505"/>
<circle cx="1168.6" cy="1015.8" r="5.6" fill="#f20505"/>
<circle cx="1188.8" cy="1060.5" r="5.6" fill="#f20505"/>
<circle cx="1192.7" cy="1074.2" r="5.6" fill="#f20505"/>
<path d="M750.9,820.0 L770.6,826.6 L787.5,833.1 L808.1,841.0 L825.9,846.2 L845.6,853.8 L870.0,861.2 L890.6,866.9 L906.1,874.8 L931.9,881.9 L950.6,881.9 L968.4,894.0 L990.0,897.8 L1013.4,902.5 L1033.1,913.8 L1052.8,919.4 L1073.4,926.9 L1093.3,936.7 L1113.8,950.6 L1134.2,965.6 L1154.2,990.6 L1174.3,1027.3" fill="none" stroke="#80e080" stroke-width="1"/>
<circle cx="750.9" cy="820.0" r="5.6" fill="#12f212"/>
<circle cx="770.6" cy="826.6" r="5.6" fill="#12f212"/>
<circle cx="787.5" cy="833.1" r="5.6" fill="#12f212"/>
<circle cx="808.1" cy="841.0" r="5.6" fill="#12f212"/>
<circle cx="825.9" cy="846.2" r="5.6" fill="#12f212"/>
<circle cx="845.6" cy="853.8" r="5.6" fill="#12f212"/>
<circle cx="870.0" cy="861.2" r="5.6" fill="#12f212"/>
<circle cx="890.6" cy="866.9" r="5.6" fill="#12f212"/>
<circle cx="906.1" cy="874.8" r="5.6" fill="#12f212"/>
<circle cx="931.9" cy="881.9" r="5.6" fill="#12f212"/>
<circle cx="950.6" cy="881.9" r="5.6" fill="#12f212"/>
<circle cx="968.4" cy="894.0" r="5.6" fill="#12f212"/>
<circle cx="990.0" cy="897.8" r="5.6" fill="#12f212"/>
<circle cx="1013.4" cy="902.5" r="5.6" fill="#12f212"/>
<circle cx="1033.1" cy="913.8" r="5.6" fill="#12f212"/>
<circle cx="1052.8" cy="919.4" r="5.6" fill="#12f212"/>
<circle cx="1073.4" cy="926.9" r="5.6" fill="#12f212"/>
<circle cx="1093.3" cy="936.7" r="5.6" fill="#12f212"/>
<circle cx="1113.8" cy="950.6" r="5.6" fill="#12f212"/>
<circle cx="1134.2" cy="965.6" r="5.6" fill="#12f212"/>
<circle cx="1154.2" cy="990.6" r="5.6" fill="#12f212"/>
<circle cx="1174.3" cy="1027.3" r="5.6" fill="#12f212"/>
</g>
<rect x="358.8" y="41.0" width="267.8" height="142.0" fill="#fff" stroke="#777" stroke-width="2"/>
<line x1="372.7" y1="64.3" x2="456.6" y2="64.3" stroke="#666666" stroke-width="2.2"/>
<circle cx="372.7" cy="64.3" r="8.9" fill="#000000"/>
<circle cx="414.6" cy="64.3" r="8.9" fill="#000000"/>
<circle cx="456.6" cy="64.3" r="8.9" fill="#000000"/>
<text x="471.30" y="72.60" font-size="23.6" text-anchor="start" >1</text>
<text x="484.30" y="65.60" font-size="13.5" text-anchor="start" >st</text>
<text x="502.50" y="72.60" font-size="23.6" text-anchor="start" >Charge</text>
<line x1="372.7" y1="95.9" x2="456.6" y2="95.9" stroke="#90f4f6" stroke-width="2.2"/>
<circle cx="372.7" cy="95.9" r="8.9" fill="#08f0fc"/>
<circle cx="414.6" cy="95.9" r="8.9" fill="#08f0fc"/>
<circle cx="456.6" cy="95.9" r="8.9" fill="#08f0fc"/>
<text x="471.30" y="104.20" font-size="23.6" text-anchor="start" >1</text>
<text x="484.30" y="97.20" font-size="13.5" text-anchor="start" >st</text>
<text x="502.50" y="104.20" font-size="23.6" text-anchor="start" >Discharge</text>
<line x1="372.7" y1="127.6" x2="456.6" y2="127.6" stroke="#f48080" stroke-width="2.2"/>
<circle cx="372.7" cy="127.6" r="8.9" fill="#f20505"/>
<circle cx="414.6" cy="127.6" r="8.9" fill="#f20505"/>
<circle cx="456.6" cy="127.6" r="8.9" fill="#f20505"/>
<text x="471.30" y="135.90" font-size="23.6" text-anchor="start" >2</text>
<text x="484.30" y="128.90" font-size="13.5" text-anchor="start" >nd</text>
<text x="507.80" y="135.90" font-size="23.6" text-anchor="start" >Charge</text>
<line x1="372.7" y1="159.5" x2="456.6" y2="159.5" stroke="#88f088" stroke-width="2.2"/>
<circle cx="372.7" cy="159.5" r="8.9" fill="#12f212"/>
<circle cx="414.6" cy="159.5" r="8.9" fill="#12f212"/>
<circle cx="456.6" cy="159.5" r="8.9" fill="#12f212"/>
<text x="471.30" y="167.80" font-size="23.6" text-anchor="start" >2</text>
<text x="484.30" y="160.80" font-size="13.5" text-anchor="start" >nd</text>
<text x="507.80" y="167.80" font-size="23.6" text-anchor="start" >Discharge</text>
</svg></body></html>
